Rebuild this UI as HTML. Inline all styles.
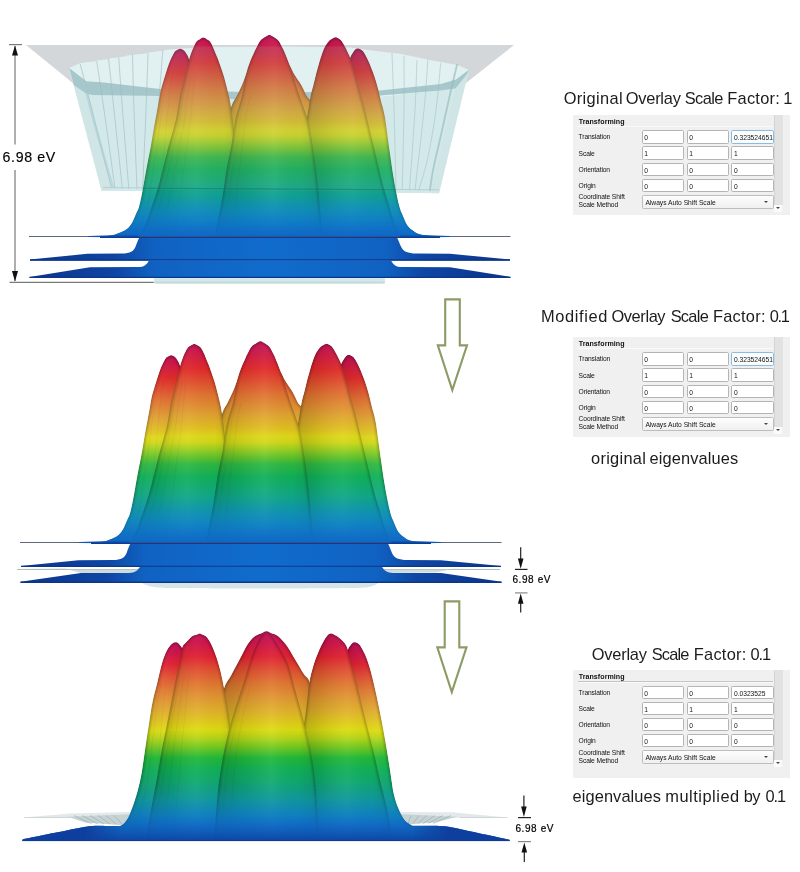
<!DOCTYPE html>
<html><head><meta charset="utf-8"><title>Overlay Scale Factor</title>
<style>
html,body{margin:0;padding:0;background:#fff}
body{width:800px;height:872px;position:relative;overflow:hidden;font-family:"Liberation Sans",sans-serif}
svg text{font-family:"Liberation Sans",sans-serif}
svg,.wrap{will-change:transform}
.wrap{position:absolute;left:0;top:0;width:800px;height:872px}
.pn{position:absolute;width:216.2px;background:#f0f0f0;font-size:6.7px;color:#111}
.pn .sb{position:absolute;left:200.2px;top:0;width:8.3px;background:#e2e2e2;border-left:.6px solid #d4d4d4}
.pn .sa{position:absolute;left:200.4px;width:8.1px;height:7.6px;background:#fbfbfb}
.pn .sa i{position:absolute;left:1.9px;top:2.6px;border-left:2.2px solid transparent;border-right:2.2px solid transparent;border-top:2.4px solid #444}
.pn .hd{position:absolute;left:5.3px;top:4.3px;font-weight:bold;font-size:7.1px;line-height:7px;letter-spacing:.05px}
.pn .hl{position:absolute;left:4.6px;top:11px;width:195px;height:.8px;background:#c4c4c4;border-bottom:.7px solid #fafafa}
.pn .lb{position:absolute;left:5.2px;line-height:7.4px;white-space:nowrap;letter-spacing:-.12px}
.pn .bx{position:absolute;width:40.6px;height:11.4px;border:.8px solid #b4b4b4;border-radius:1.6px;background:#fff;line-height:13.2px;text-indent:1.7px;white-space:nowrap;overflow:hidden}
.pn .fc{border-color:#86bde0;background:#fbfdff}
.pn .cb{position:absolute;left:68.2px;width:130.2px;height:11.8px;border:.8px solid #bdbdbd;border-radius:1.6px;background:linear-gradient(#fdfdfd,#f0f0f0);line-height:13.2px;text-indent:2.8px;white-space:nowrap}
.pn .cb i{position:absolute;right:4.6px;top:4.9px;border-left:2.2px solid transparent;border-right:2.2px solid transparent;border-top:2.4px solid #444}
</style></head><body>
<svg width="800" height="872" viewBox="0 0 800 872" style="position:absolute;left:0;top:0">
<defs>
<linearGradient id="m1_rb" gradientUnits="userSpaceOnUse" x1="0" y1="35.5" x2="0" y2="277"><stop offset="0.0000" stop-color="#bd0f55"/><stop offset="0.0393" stop-color="#cc1448"/><stop offset="0.1118" stop-color="#e02828"/><stop offset="0.2153" stop-color="#e07030"/><stop offset="0.2981" stop-color="#e0a030"/><stop offset="0.3582" stop-color="#e0c020"/><stop offset="0.3913" stop-color="#e0d818"/><stop offset="0.4161" stop-color="#d0d818"/><stop offset="0.4431" stop-color="#a0d020"/><stop offset="0.4741" stop-color="#68c428"/><stop offset="0.5052" stop-color="#30b840"/><stop offset="0.5569" stop-color="#10b058"/><stop offset="0.6398" stop-color="#10a888"/><stop offset="0.6894" stop-color="#1098a8"/><stop offset="0.7308" stop-color="#108cbc"/><stop offset="0.7640" stop-color="#1080c4"/><stop offset="0.7971" stop-color="#1072c8"/><stop offset="0.8302" stop-color="#1068c4"/><stop offset="1.0000" stop-color="#1058b8"/></linearGradient>
<linearGradient id="m3_rb" gradientUnits="userSpaceOnUse" x1="0" y1="631.65" x2="0" y2="840"><stop offset="0.0000" stop-color="#bd0f5a"/><stop offset="0.0521" stop-color="#cc1048"/><stop offset="0.1193" stop-color="#e02030"/><stop offset="0.1865" stop-color="#e05030"/><stop offset="0.2537" stop-color="#e07830"/><stop offset="0.3209" stop-color="#e09830"/><stop offset="0.3880" stop-color="#e0b428"/><stop offset="0.4384" stop-color="#e0cc18"/><stop offset="0.4720" stop-color="#dcdc10"/><stop offset="0.5140" stop-color="#b0d418"/><stop offset="0.5560" stop-color="#70c820"/><stop offset="0.6064" stop-color="#20b838"/><stop offset="0.6640" stop-color="#10b058"/><stop offset="0.7240" stop-color="#10a870"/><stop offset="0.8080" stop-color="#1098a0"/><stop offset="0.8800" stop-color="#1080c0"/><stop offset="0.9184" stop-color="#1070c4"/><stop offset="0.9520" stop-color="#1060bc"/><stop offset="0.9808" stop-color="#1052b0"/><stop offset="1.0000" stop-color="#0f48a4"/></linearGradient>
<linearGradient id="m1_rb2" gradientUnits="userSpaceOnUse" x1="0" y1="35.5" x2="0" y2="277"><stop offset="0.0000" stop-color="#bd0f55"/><stop offset="0.0518" stop-color="#bd0f55"/><stop offset="0.0864" stop-color="#cc1448"/><stop offset="0.1502" stop-color="#e02828"/><stop offset="0.2413" stop-color="#e07030"/><stop offset="0.3142" stop-color="#e0a030"/><stop offset="0.3671" stop-color="#e0c020"/><stop offset="0.3963" stop-color="#e0d818"/><stop offset="0.4181" stop-color="#d0d818"/><stop offset="0.4431" stop-color="#a0d020"/><stop offset="0.4741" stop-color="#68c428"/><stop offset="0.5052" stop-color="#30b840"/><stop offset="0.5569" stop-color="#10b058"/><stop offset="0.6398" stop-color="#10a888"/><stop offset="0.6894" stop-color="#1098a8"/><stop offset="0.7308" stop-color="#108cbc"/><stop offset="0.7640" stop-color="#1080c4"/><stop offset="0.7971" stop-color="#1072c8"/><stop offset="0.8302" stop-color="#1068c4"/><stop offset="1.0000" stop-color="#1058b8"/></linearGradient>
<linearGradient id="m3_rb2" gradientUnits="userSpaceOnUse" x1="0" y1="631.65" x2="0" y2="840"><stop offset="0.0000" stop-color="#bd0f5a"/><stop offset="0.0504" stop-color="#bd0f5a"/><stop offset="0.0974" stop-color="#cc1048"/><stop offset="0.1581" stop-color="#e02030"/><stop offset="0.2188" stop-color="#e05030"/><stop offset="0.2795" stop-color="#e07830"/><stop offset="0.3402" stop-color="#e09830"/><stop offset="0.4008" stop-color="#e0b428"/><stop offset="0.4464" stop-color="#e0cc18"/><stop offset="0.4767" stop-color="#dcdc10"/><stop offset="0.5146" stop-color="#b0d418"/><stop offset="0.5560" stop-color="#70c820"/><stop offset="0.6064" stop-color="#20b838"/><stop offset="0.6640" stop-color="#10b058"/><stop offset="0.7240" stop-color="#10a870"/><stop offset="0.8080" stop-color="#1098a0"/><stop offset="0.8800" stop-color="#1080c0"/><stop offset="0.9184" stop-color="#1070c4"/><stop offset="0.9520" stop-color="#1060bc"/><stop offset="0.9808" stop-color="#1052b0"/><stop offset="1.0000" stop-color="#0f48a4"/></linearGradient>
<filter id="bl" x="-20%" y="-20%" width="140%" height="140%"><feGaussianBlur stdDeviation="1.2"/></filter>
<linearGradient id="sh" x1="0" y1="0" x2="1" y2="0"><stop offset="0" stop-color="#000" stop-opacity=".22"/><stop offset=".28" stop-color="#000" stop-opacity=".08"/><stop offset=".55" stop-color="#fff" stop-opacity=".05"/><stop offset=".8" stop-color="#000" stop-opacity=".02"/><stop offset="1" stop-color="#000" stop-opacity=".14"/></linearGradient>
<linearGradient id="shc" x1="0" y1="0" x2="1" y2="0"><stop offset="0" stop-color="#000" stop-opacity=".2"/><stop offset=".3" stop-color="#000" stop-opacity=".06"/><stop offset=".55" stop-color="#fff" stop-opacity=".06"/><stop offset=".8" stop-color="#000" stop-opacity=".02"/><stop offset="1" stop-color="#000" stop-opacity=".12"/></linearGradient>
<linearGradient id="shh" gradientUnits="userSpaceOnUse" x1="29" y1="0" x2="511" y2="0"><stop offset="0" stop-color="#0b338a"/><stop offset=".18" stop-color="#0e46a4"/><stop offset=".26" stop-color="#1062c2"/><stop offset=".5" stop-color="#106ccc"/><stop offset=".74" stop-color="#1062c2"/><stop offset=".82" stop-color="#0e46a4"/><stop offset="1" stop-color="#0b338a"/></linearGradient>
<linearGradient id="slab3" gradientUnits="userSpaceOnUse" x1="0" y1="826" x2="0" y2="841"><stop offset="0" stop-color="#1256b8"/><stop offset=".5" stop-color="#1048aa"/><stop offset="1" stop-color="#0e3c98"/></linearGradient>
<linearGradient id="wash" gradientUnits="userSpaceOnUse" x1="0" y1="46" x2="0" y2="192"><stop offset="0" stop-color="#90aeb4" stop-opacity=".17"/><stop offset=".7" stop-color="#90aeb4" stop-opacity=".15"/><stop offset="1" stop-color="#90aeb4" stop-opacity=".1"/></linearGradient>
<linearGradient id="wingLg" gradientUnits="userSpaceOnUse" x1="124" y1="0" x2="84" y2="0"><stop offset="0" stop-color="#0f3f9e" stop-opacity="0"/><stop offset="1" stop-color="#0f3f9e" stop-opacity="1"/></linearGradient><linearGradient id="wingRg" gradientUnits="userSpaceOnUse" x1="408" y1="0" x2="448" y2="0"><stop offset="0" stop-color="#0f3f9e" stop-opacity="0"/><stop offset="1" stop-color="#0f3f9e" stop-opacity="1"/></linearGradient>
</defs>
<g id="fig1">
<path d="M26,45L514,45L466,83L74,84Z" fill="#d4d7d9"/>
<path d="M69,68L80,63.2L81,63L96,61.2L97,60.5L108,59.2L109,58.5L126,56.2L127,55.6L146,53.4L147,52.8L164,50.6L165,50L185,48.2L220,47L269,46.5L320,47L350,47.6L372,50.5L400,53.75L430,60L457.5,65L469,70L461,100L439,193.3L398,192.5L101.5,190.8L88,130Z" fill="#e1f0f0"/>
<path d="M88,93L160,95.5L269,100L380,97L461,88L439,193.3L101.5,190.8Z" fill="#d3e9e9"/>
<path d="M69,68L86,82L88,93L111,190L101.5,190.8Z" fill="#cfe5e6"/>
<path d="M469,70L461,80L455.4,88.6L430,192L439,193.3Z" fill="#cfe5e6"/>
<path d="M69.2,68L86.25,81.25L104,82.6L160,89L269,93L380,90.5L440.7,84L456,79.5L469.2,69.6L466.4,74.9L455.4,88.6L440.7,90.5L380,95.5L269,100.5L160,96L92,95L85.7,93.2L73.75,85L71,74Z" fill="#a6c8cc"/>
<path d="M80.2,63.9C82.15,71.51 86.85,89.52 92,110C97.15,130.48 108.2,175.13 111.4,188" stroke="#9abbc0" stroke-opacity="0.6" stroke-width="1" fill="none"/>
<path d="M96.7,61.1C97.9,69.17 100.98,88.98 104,110C107.02,131.02 113.19,175.55 115,188.5" stroke="#9abbc0" stroke-opacity="0.6" stroke-width="1" fill="none"/>
<path d="M108.6,58.3C109.49,66.83 111.72,88.5 114,110C116.28,131.5 121.01,175.63 122.4,188.6" stroke="#9abbc0" stroke-opacity="0.6" stroke-width="1" fill="none"/>
<path d="M118.7,57.4C119.33,66.08 120.83,88.32 122.5,110C124.17,131.68 127.76,175.8 128.8,188.8" stroke="#9abbc0" stroke-opacity="0.6" stroke-width="1" fill="none"/>
<path d="M132.5,54.3C132.75,63.49 133.26,87.77 134,110C134.74,132.23 136.5,175.97 137,189" stroke="#9abbc0" stroke-opacity="0.6" stroke-width="1" fill="none"/>
<path d="M148,52.8C147.67,62.24 146.89,87.44 146,110C145.11,132.56 143.16,176.38 142.6,189.5" stroke="#9abbc0" stroke-opacity="0.6" stroke-width="1" fill="none"/>
<path d="M162.8,50C162.01,59.9 160.11,86.98 158,110C155.89,133.02 151.32,176.38 150,189.5" stroke="#9abbc0" stroke-opacity="0.6" stroke-width="1" fill="none"/>
<path d="M83.9,82C85.73,89.09 90.2,107.51 95,125C99.8,142.49 110.03,177.6 113,188" stroke="#a9cbcf" stroke-opacity="0.55" stroke-width="2.6" fill="none"/>
<path d="M427.9,59.3C427.26,67.67 426.13,88.43 424,110C421.87,131.57 416.49,176.8 415,190" stroke="#9abbc0" stroke-opacity="0.5" stroke-width="1" fill="none"/>
<path d="M440.7,62.9C439.92,70.67 438.11,94.41 436,110C433.89,125.59 430.75,144.12 427.9,157.4C425.05,170.68 420.22,185.04 418.7,190.5" stroke="#9abbc0" stroke-opacity="0.5" stroke-width="1" fill="none"/>
<path d="M416.9,60C416.59,68.25 416.22,88.55 415,110C413.78,131.45 410.41,176.8 409.5,190" stroke="#9abbc0" stroke-opacity="0.5" stroke-width="1" fill="none"/>
<path d="M404,56C404,64.91 404.3,87.92 404,110C403.7,132.08 402.5,176.63 402.2,189.8" stroke="#9abbc0" stroke-opacity="0.5" stroke-width="1" fill="none"/>
<path d="M392,53C392.33,62.41 393.34,87.46 394,110C394.66,132.54 395.67,176.47 396,189.6" stroke="#9abbc0" stroke-opacity="0.5" stroke-width="1" fill="none"/>
<path d="M457.2,63.9C456,69.03 452.57,83.27 449.9,95C447.23,106.73 443.72,122.89 441,135C438.28,147.11 435.26,159.16 433.4,168.4C431.54,177.64 430.31,187.27 429.7,191" stroke="#98bcc0" stroke-opacity="0.7" stroke-width="1.8" fill="none"/>
<path d="M103,187.6 L439,189.8" stroke="#b2d0d4" stroke-width="1" fill="none"/>
<rect x="154" y="276" width="231" height="7.6" rx="3" fill="#d5e8e9"/>
<rect x="154" y="281.6" width="231" height="2" rx="1" fill="#c4dadc"/>
<g id="mtn12"><defs><clipPath id="m1_A"><path d="M99,236.6C100.98,236.42 107.7,236.09 111,235.5C114.3,234.91 116.36,234.07 119,233C121.64,231.93 124.86,230.65 127,229C129.15,227.35 130.51,225.47 132,223C133.49,220.53 134.84,216.64 136,214C137.16,211.36 138.01,210.38 139,207C139.99,203.62 141.11,197.96 142,193.5C142.89,189.04 143.71,183.88 144.4,180C145.09,176.12 145.11,175.78 146.2,170C147.29,164.22 149.65,152.43 151,145C152.35,137.57 153.23,131.6 154.4,125C155.57,118.4 157.09,110.65 158.12,105C159.15,99.35 159.8,94.59 160.64,90.75C161.47,86.91 162.31,84.72 163.19,81.75C164.06,78.78 164.85,76.09 165.94,72.75C167.02,69.41 168.4,64.84 169.77,61.5C171.14,58.16 173.01,54.38 174.22,52.5C175.43,50.62 176.11,50.71 177.11,50.1C178.11,49.49 179.21,48.8 180.25,48.8C181.29,48.8 182.49,49.49 183.39,50.1C184.29,50.71 184.85,51.26 185.68,52.5C186.52,53.74 187.44,54.71 188.45,57.6C189.46,60.49 190.51,63.83 191.78,70C193.05,76.17 194.62,86.75 196.14,95C197.66,103.25 199.37,111.75 201,120C202.63,128.25 204.35,136.75 206,145C207.65,153.25 209.51,160.93 211,170C212.49,179.07 213.84,188.91 215,200C216.16,211.09 217.5,231.06 218,237.2Z"/></clipPath><clipPath id="m1_E"><path d="M320,237.2C320.5,231.06 321.85,211.09 323,200C324.15,188.91 325.51,179.07 327,170C328.49,160.93 330.35,153.25 332,145C333.65,136.75 335.29,128.25 337,120C338.71,111.75 340.68,103.25 342.36,95C344.05,86.75 345.98,76.04 347.22,70C348.46,63.96 348.58,61.72 349.85,58.4C351.13,55.08 353.6,51.48 354.96,49.85C356.32,48.22 357.06,48.55 358.1,48.55C359.14,48.55 360.25,49.15 361.24,49.85C362.23,50.55 362.97,51.11 364.08,52.8C365.18,54.49 366.75,57.59 367.94,60.1C369.13,62.61 370.18,65.21 371.29,68C372.4,70.79 373.54,73.67 374.64,77C375.73,80.33 376.84,84.12 377.93,88.2C379.01,92.28 380.06,97.06 381.2,101.7C382.33,106.34 383.44,108.38 384.81,116.35C386.18,124.32 387.98,139.5 389.5,150C391.02,160.5 392.43,170.93 394,180C395.57,189.07 397.6,199.22 399,205C400.4,210.78 401.18,211.7 402.5,215C403.82,218.3 405.43,222.53 407,225C408.57,227.47 410.02,228.51 412,230C413.98,231.49 415.87,233.01 419,234C422.13,234.99 427.37,235.57 431,236C434.63,236.43 439.35,236.5 441,236.6Z"/></clipPath><clipPath id="m1_BCL"><path d="M222,237.2C222.16,224.46 222.34,178.51 223,160C223.66,141.49 224.56,133.99 226,125C227.44,116.01 229.98,110.2 231.7,105.5C233.42,100.8 234.72,99.85 236.4,96.5C238.08,93.15 240.15,89.24 241.9,85.2C243.65,81.16 245.33,75.83 247,72C248.67,68.17 250.19,63.98 252,62C253.81,60.02 255.69,55.38 258,60C260.31,64.62 263.69,73.5 266,90C268.31,106.5 270.51,135.71 272,160C273.49,184.29 274.5,224.46 275,237.2Z"/></clipPath><clipPath id="m1_BCR"><path d="M262,237.2C262.33,224.46 262.68,184.29 264,160C265.32,135.71 267.69,106.5 270,90C272.31,73.5 275.69,65.28 278,60C280.31,54.72 282.02,57.01 284,58C285.98,58.99 288.33,63.36 290,66C291.67,68.64 292.22,70.83 294.1,74C295.98,77.17 299.25,81.49 301.4,85.2C303.54,88.91 305.43,93.73 307.1,96.5C308.77,99.27 310.2,98.45 311.5,102C312.8,105.55 313.93,108.43 315,118C316.07,127.57 317.18,140.33 318,160C318.82,179.67 319.67,224.46 320,237.2Z"/></clipPath><clipPath id="m1_B"><path d="M138,237.2C139.16,235.19 143.02,229.32 145,225C146.98,220.68 148.35,215.62 150,211C151.65,206.38 153.35,202.12 155,197C156.65,191.88 157.94,187.75 160,180C162.06,172.25 164.9,159.9 167.5,150C170.1,140.1 173.75,128.66 175.75,120C177.75,111.34 178.55,103.07 179.64,97.5C180.73,91.93 181.47,89.96 182.38,86.25C183.28,82.54 183.93,79.64 185.11,75C186.29,70.36 188.48,61.81 189.52,58.1C190.55,54.39 190.7,54.35 191.38,52.5C192.07,50.65 192.77,48.75 193.65,46.9C194.53,45.05 195.65,42.62 196.72,41.3C197.79,39.98 199.07,39.51 200.16,38.9C201.25,38.29 202.26,37.6 203.3,37.6C204.34,37.6 205.35,38.29 206.44,38.9C207.53,39.51 208.81,39.98 209.88,41.3C210.95,42.62 212.07,45.05 212.95,46.9C213.83,48.75 214.45,50.65 215.22,52.5C215.98,54.35 216.22,54.39 217.58,58.1C218.95,61.81 222.01,70.36 223.49,75C224.96,79.64 225.57,82.54 226.52,86.25C227.48,89.96 228.54,94.16 229.26,97.5C229.98,100.84 230.13,101.14 230.91,106.5C231.69,111.86 232.83,121.17 234,130C235.17,138.83 236.68,148.45 238,160C239.32,171.55 240.84,187.26 242,200C243.16,212.74 244.5,231.06 245,237.2Z"/></clipPath><clipPath id="m1_D"><path d="M294,237.2C294.5,231.06 295.85,212.74 297,200C298.15,187.26 299.68,171.55 301,160C302.32,148.45 303.48,140.17 305,130C306.52,119.83 308.8,105.8 310.2,98.35C311.59,90.9 312.48,88.93 313.47,84.85C314.46,80.77 315.29,77.12 316.21,73.6C317.12,70.08 318.08,66.65 319,63.5C319.92,60.35 320.8,57.29 321.8,54.5C322.8,51.71 323.86,48.83 325.05,46.6C326.24,44.37 327.8,42.32 329.02,41C330.24,39.68 331.37,39.21 332.46,38.6C333.55,37.99 334.56,37.3 335.6,37.3C336.64,37.3 337.75,37.99 338.74,38.6C339.73,39.21 340.56,39.68 341.58,41C342.6,42.32 343.94,44.75 344.95,46.6C345.96,48.45 346.8,50.25 347.72,52.2C348.63,54.15 349.57,55.79 350.48,58.4C351.39,61.01 352.22,64.57 353.23,68C354.23,71.43 355.47,75.31 356.56,79.2C357.65,83.09 358.66,87.33 359.84,91.6C361.02,95.87 362.62,101.02 363.71,105.1C364.81,109.18 365.3,111.42 366.5,116.35C367.7,121.28 369.27,127.8 371,135C372.73,142.2 375.02,151.75 377,160C378.98,168.25 381.02,177.57 383,185C384.98,192.43 387.02,198.4 389,205C390.98,211.6 393.02,219.69 395,225C396.98,230.31 400.01,235.19 401,237.2Z"/></clipPath><clipPath id="m1_C"><path d="M214,237.2C214.5,235.19 215.56,232.03 217,225C218.44,217.97 221.18,203.74 222.75,194.6C224.32,185.46 225.06,177.85 226.5,169.6C227.94,161.35 230,153.11 231.5,144.6C233,136.09 233.91,125.94 235.6,118C237.29,110.06 240,103.76 241.75,96.5C243.5,89.24 244.92,79.56 246.22,74C247.53,68.44 248.29,66.51 249.66,62.8C251.02,59.09 253.24,54.29 254.49,51.5C255.75,48.71 256.25,47.76 257.26,45.9C258.27,44.04 259.14,41.8 260.63,40.2C262.11,38.6 264.81,37.07 266.26,36.2C267.71,35.33 268.36,34.9 269.4,34.9C270.44,34.9 271.09,35.33 272.54,36.2C273.99,37.07 276.69,38.6 278.17,40.2C279.66,41.8 280.53,44.04 281.54,45.9C282.55,47.76 283.12,48.71 284.31,51.5C285.5,54.29 287.38,59.09 288.74,62.8C290.11,66.51 290.88,68.75 292.58,74C294.28,79.25 297.09,88.66 299.06,94.6C301.03,100.54 302.86,105.05 304.5,110C306.14,114.95 307.43,117.24 309,124.6C310.57,131.96 312.56,144.7 314,154.6C315.44,164.5 316.6,173.81 317.75,184.6C318.9,195.39 320.13,211.32 321,220C321.87,228.68 322.67,234.36 323,237.2Z"/></clipPath><clipPath id="m1_all"><path d="M99,236.6C100.98,236.42 107.7,236.09 111,235.5C114.3,234.91 116.36,234.07 119,233C121.64,231.93 124.86,230.65 127,229C129.15,227.35 130.51,225.47 132,223C133.49,220.53 134.84,216.64 136,214C137.16,211.36 138.01,210.38 139,207C139.99,203.62 141.11,197.96 142,193.5C142.89,189.04 143.71,183.88 144.4,180C145.09,176.12 145.11,175.78 146.2,170C147.29,164.22 149.65,152.43 151,145C152.35,137.57 153.23,131.6 154.4,125C155.57,118.4 157.09,110.65 158.12,105C159.15,99.35 159.8,94.59 160.64,90.75C161.47,86.91 162.31,84.72 163.19,81.75C164.06,78.78 164.85,76.09 165.94,72.75C167.02,69.41 168.4,64.84 169.77,61.5C171.14,58.16 173.01,54.38 174.22,52.5C175.43,50.62 176.11,50.71 177.11,50.1C178.11,49.49 179.21,48.8 180.25,48.8C181.29,48.8 182.49,49.49 183.39,50.1C184.29,50.71 184.85,51.26 185.68,52.5C186.52,53.74 187.44,54.71 188.45,57.6C189.46,60.49 190.51,63.83 191.78,70C193.05,76.17 194.62,86.75 196.14,95C197.66,103.25 199.37,111.75 201,120C202.63,128.25 204.35,136.75 206,145C207.65,153.25 209.51,160.93 211,170C212.49,179.07 213.84,188.91 215,200C216.16,211.09 217.5,231.06 218,237.2Z"/><path d="M320,237.2C320.5,231.06 321.85,211.09 323,200C324.15,188.91 325.51,179.07 327,170C328.49,160.93 330.35,153.25 332,145C333.65,136.75 335.29,128.25 337,120C338.71,111.75 340.68,103.25 342.36,95C344.05,86.75 345.98,76.04 347.22,70C348.46,63.96 348.58,61.72 349.85,58.4C351.13,55.08 353.6,51.48 354.96,49.85C356.32,48.22 357.06,48.55 358.1,48.55C359.14,48.55 360.25,49.15 361.24,49.85C362.23,50.55 362.97,51.11 364.08,52.8C365.18,54.49 366.75,57.59 367.94,60.1C369.13,62.61 370.18,65.21 371.29,68C372.4,70.79 373.54,73.67 374.64,77C375.73,80.33 376.84,84.12 377.93,88.2C379.01,92.28 380.06,97.06 381.2,101.7C382.33,106.34 383.44,108.38 384.81,116.35C386.18,124.32 387.98,139.5 389.5,150C391.02,160.5 392.43,170.93 394,180C395.57,189.07 397.6,199.22 399,205C400.4,210.78 401.18,211.7 402.5,215C403.82,218.3 405.43,222.53 407,225C408.57,227.47 410.02,228.51 412,230C413.98,231.49 415.87,233.01 419,234C422.13,234.99 427.37,235.57 431,236C434.63,236.43 439.35,236.5 441,236.6Z"/><path d="M222,237.2C222.16,224.46 222.34,178.51 223,160C223.66,141.49 224.56,133.99 226,125C227.44,116.01 229.98,110.2 231.7,105.5C233.42,100.8 234.72,99.85 236.4,96.5C238.08,93.15 240.15,89.24 241.9,85.2C243.65,81.16 245.33,75.83 247,72C248.67,68.17 250.19,63.98 252,62C253.81,60.02 255.69,55.38 258,60C260.31,64.62 263.69,73.5 266,90C268.31,106.5 270.51,135.71 272,160C273.49,184.29 274.5,224.46 275,237.2Z"/><path d="M262,237.2C262.33,224.46 262.68,184.29 264,160C265.32,135.71 267.69,106.5 270,90C272.31,73.5 275.69,65.28 278,60C280.31,54.72 282.02,57.01 284,58C285.98,58.99 288.33,63.36 290,66C291.67,68.64 292.22,70.83 294.1,74C295.98,77.17 299.25,81.49 301.4,85.2C303.54,88.91 305.43,93.73 307.1,96.5C308.77,99.27 310.2,98.45 311.5,102C312.8,105.55 313.93,108.43 315,118C316.07,127.57 317.18,140.33 318,160C318.82,179.67 319.67,224.46 320,237.2Z"/><path d="M138,237.2C139.16,235.19 143.02,229.32 145,225C146.98,220.68 148.35,215.62 150,211C151.65,206.38 153.35,202.12 155,197C156.65,191.88 157.94,187.75 160,180C162.06,172.25 164.9,159.9 167.5,150C170.1,140.1 173.75,128.66 175.75,120C177.75,111.34 178.55,103.07 179.64,97.5C180.73,91.93 181.47,89.96 182.38,86.25C183.28,82.54 183.93,79.64 185.11,75C186.29,70.36 188.48,61.81 189.52,58.1C190.55,54.39 190.7,54.35 191.38,52.5C192.07,50.65 192.77,48.75 193.65,46.9C194.53,45.05 195.65,42.62 196.72,41.3C197.79,39.98 199.07,39.51 200.16,38.9C201.25,38.29 202.26,37.6 203.3,37.6C204.34,37.6 205.35,38.29 206.44,38.9C207.53,39.51 208.81,39.98 209.88,41.3C210.95,42.62 212.07,45.05 212.95,46.9C213.83,48.75 214.45,50.65 215.22,52.5C215.98,54.35 216.22,54.39 217.58,58.1C218.95,61.81 222.01,70.36 223.49,75C224.96,79.64 225.57,82.54 226.52,86.25C227.48,89.96 228.54,94.16 229.26,97.5C229.98,100.84 230.13,101.14 230.91,106.5C231.69,111.86 232.83,121.17 234,130C235.17,138.83 236.68,148.45 238,160C239.32,171.55 240.84,187.26 242,200C243.16,212.74 244.5,231.06 245,237.2Z"/><path d="M294,237.2C294.5,231.06 295.85,212.74 297,200C298.15,187.26 299.68,171.55 301,160C302.32,148.45 303.48,140.17 305,130C306.52,119.83 308.8,105.8 310.2,98.35C311.59,90.9 312.48,88.93 313.47,84.85C314.46,80.77 315.29,77.12 316.21,73.6C317.12,70.08 318.08,66.65 319,63.5C319.92,60.35 320.8,57.29 321.8,54.5C322.8,51.71 323.86,48.83 325.05,46.6C326.24,44.37 327.8,42.32 329.02,41C330.24,39.68 331.37,39.21 332.46,38.6C333.55,37.99 334.56,37.3 335.6,37.3C336.64,37.3 337.75,37.99 338.74,38.6C339.73,39.21 340.56,39.68 341.58,41C342.6,42.32 343.94,44.75 344.95,46.6C345.96,48.45 346.8,50.25 347.72,52.2C348.63,54.15 349.57,55.79 350.48,58.4C351.39,61.01 352.22,64.57 353.23,68C354.23,71.43 355.47,75.31 356.56,79.2C357.65,83.09 358.66,87.33 359.84,91.6C361.02,95.87 362.62,101.02 363.71,105.1C364.81,109.18 365.3,111.42 366.5,116.35C367.7,121.28 369.27,127.8 371,135C372.73,142.2 375.02,151.75 377,160C378.98,168.25 381.02,177.57 383,185C384.98,192.43 387.02,198.4 389,205C390.98,211.6 393.02,219.69 395,225C396.98,230.31 400.01,235.19 401,237.2Z"/><path d="M214,237.2C214.5,235.19 215.56,232.03 217,225C218.44,217.97 221.18,203.74 222.75,194.6C224.32,185.46 225.06,177.85 226.5,169.6C227.94,161.35 230,153.11 231.5,144.6C233,136.09 233.91,125.94 235.6,118C237.29,110.06 240,103.76 241.75,96.5C243.5,89.24 244.92,79.56 246.22,74C247.53,68.44 248.29,66.51 249.66,62.8C251.02,59.09 253.24,54.29 254.49,51.5C255.75,48.71 256.25,47.76 257.26,45.9C258.27,44.04 259.14,41.8 260.63,40.2C262.11,38.6 264.81,37.07 266.26,36.2C267.71,35.33 268.36,34.9 269.4,34.9C270.44,34.9 271.09,35.33 272.54,36.2C273.99,37.07 276.69,38.6 278.17,40.2C279.66,41.8 280.53,44.04 281.54,45.9C282.55,47.76 283.12,48.71 284.31,51.5C285.5,54.29 287.38,59.09 288.74,62.8C290.11,66.51 290.88,68.75 292.58,74C294.28,79.25 297.09,88.66 299.06,94.6C301.03,100.54 302.86,105.05 304.5,110C306.14,114.95 307.43,117.24 309,124.6C310.57,131.96 312.56,144.7 314,154.6C315.44,164.5 316.6,173.81 317.75,184.6C318.9,195.39 320.13,211.32 321,220C321.87,228.68 322.67,234.36 323,237.2Z"/></clipPath><linearGradient id="m1_fd" gradientUnits="userSpaceOnUse" x1="0" y1="185" x2="0" y2="238"><stop offset="0" stop-color="#fff" stop-opacity="0"/><stop offset="0.75" stop-color="#fff" stop-opacity=".8"/><stop offset="1" stop-color="#fff" stop-opacity="1"/></linearGradient><mask id="m1_mk" maskUnits="userSpaceOnUse" x="0" y="185" width="800" height="55"><rect x="0" y="185" width="800" height="55" fill="url(#m1_fd)"/></mask></defs>
<g clip-path="url(#m1_A)"><path d="M99,236.6C100.98,236.42 107.7,236.09 111,235.5C114.3,234.91 116.36,234.07 119,233C121.64,231.93 124.86,230.65 127,229C129.15,227.35 130.51,225.47 132,223C133.49,220.53 134.84,216.64 136,214C137.16,211.36 138.01,210.38 139,207C139.99,203.62 141.11,197.96 142,193.5C142.89,189.04 143.71,183.88 144.4,180C145.09,176.12 145.11,175.78 146.2,170C147.29,164.22 149.65,152.43 151,145C152.35,137.57 153.23,131.6 154.4,125C155.57,118.4 157.09,110.65 158.12,105C159.15,99.35 159.8,94.59 160.64,90.75C161.47,86.91 162.31,84.72 163.19,81.75C164.06,78.78 164.85,76.09 165.94,72.75C167.02,69.41 168.4,64.84 169.77,61.5C171.14,58.16 173.01,54.38 174.22,52.5C175.43,50.62 176.11,50.71 177.11,50.1C178.11,49.49 179.21,48.8 180.25,48.8C181.29,48.8 182.49,49.49 183.39,50.1C184.29,50.71 184.85,51.26 185.68,52.5C186.52,53.74 187.44,54.71 188.45,57.6C189.46,60.49 190.51,63.83 191.78,70C193.05,76.17 194.62,86.75 196.14,95C197.66,103.25 199.37,111.75 201,120C202.63,128.25 204.35,136.75 206,145C207.65,153.25 209.51,160.93 211,170C212.49,179.07 213.84,188.91 215,200C216.16,211.09 217.5,231.06 218,237.2Z" fill="url(#m1_rb2)"/><path d="M99,236.6C100.98,236.42 107.7,236.09 111,235.5C114.3,234.91 116.36,234.07 119,233C121.64,231.93 124.86,230.65 127,229C129.15,227.35 130.51,225.47 132,223C133.49,220.53 134.84,216.64 136,214C137.16,211.36 138.01,210.38 139,207C139.99,203.62 141.11,197.96 142,193.5C142.89,189.04 143.71,183.88 144.4,180C145.09,176.12 145.11,175.78 146.2,170C147.29,164.22 149.65,152.43 151,145C152.35,137.57 153.23,131.6 154.4,125C155.57,118.4 157.09,110.65 158.12,105C159.15,99.35 159.8,94.59 160.64,90.75C161.47,86.91 162.31,84.72 163.19,81.75C164.06,78.78 164.85,76.09 165.94,72.75C167.02,69.41 168.4,64.84 169.77,61.5C171.14,58.16 173.01,54.38 174.22,52.5C175.43,50.62 176.11,50.71 177.11,50.1C178.11,49.49 179.21,48.8 180.25,48.8C181.29,48.8 182.49,49.49 183.39,50.1C184.29,50.71 184.85,51.26 185.68,52.5C186.52,53.74 187.44,54.71 188.45,57.6C189.46,60.49 190.51,63.83 191.78,70C193.05,76.17 194.62,86.75 196.14,95C197.66,103.25 199.37,111.75 201,120C202.63,128.25 204.35,136.75 206,145C207.65,153.25 209.51,160.93 211,170C212.49,179.07 213.84,188.91 215,200C216.16,211.09 217.5,231.06 218,237.2Z" fill="url(#sh)"/><path d="M115.4,236.6C116.98,236.42 122.36,236.09 125,235.5C127.64,234.91 129.29,234.07 131.4,233C133.51,231.93 136.08,230.65 137.8,229C139.52,227.35 140.61,225.47 141.8,223C142.99,220.53 144.08,216.64 145,214C145.92,211.36 146.61,210.38 147.4,207C148.19,203.62 149.09,197.96 149.8,193.5C150.51,189.04 151.17,183.88 151.72,180C152.27,176.12 152.29,175.78 153.16,170C154.03,164.22 155.92,152.43 157,145C158.08,137.57 158.77,131.6 159.72,125C160.67,118.4 161.92,110.65 162.76,105C163.6,99.35 164.15,94.59 164.84,90.75C165.53,86.91 166.21,84.72 166.92,81.75C167.63,78.78 168.79,74.23 169.16,72.75" fill="none" stroke="#000" stroke-opacity=".05" stroke-width=".8"/><path d="M135.9,236.6C136.99,236.42 140.69,236.09 142.5,235.5C144.31,234.91 145.45,234.07 146.9,233C148.35,231.93 150.12,230.65 151.3,229C152.48,227.35 153.23,225.47 154.05,223C154.87,220.53 155.61,216.64 156.25,214C156.89,211.36 157.36,210.38 157.9,207C158.44,203.62 159.06,197.96 159.55,193.5C160.04,189.04 160.49,183.88 160.87,180C161.25,176.12 161.26,175.78 161.86,170C162.46,164.22 163.76,152.43 164.5,145C165.24,137.57 165.72,131.6 166.37,125C167.02,118.4 167.88,110.65 168.46,105C169.04,99.35 169.42,94.59 169.89,90.75C170.36,86.91 170.83,84.72 171.32,81.75C171.81,78.78 172.61,74.23 172.86,72.75" fill="none" stroke="#000" stroke-opacity=".05" stroke-width=".8"/><path d="M99,236.6C100.98,236.42 107.7,236.09 111,235.5C114.3,234.91 116.36,234.07 119,233C121.64,231.93 124.86,230.65 127,229C129.15,227.35 130.51,225.47 132,223C133.49,220.53 134.84,216.64 136,214C137.16,211.36 138.01,210.38 139,207C139.99,203.62 141.11,197.96 142,193.5C142.89,189.04 143.71,183.88 144.4,180C145.09,176.12 145.11,175.78 146.2,170C147.29,164.22 149.65,152.43 151,145C152.35,137.57 153.23,131.6 154.4,125C155.57,118.4 157.09,110.65 158.12,105C159.15,99.35 159.8,94.59 160.64,90.75C161.47,86.91 162.31,84.72 163.19,81.75C164.06,78.78 164.85,76.09 165.94,72.75C167.02,69.41 168.4,64.84 169.77,61.5C171.14,58.16 173.01,54.38 174.22,52.5C175.43,50.62 176.11,50.71 177.11,50.1C178.11,49.49 179.21,48.8 180.25,48.8C181.29,48.8 182.49,49.49 183.39,50.1C184.29,50.71 184.85,51.26 185.68,52.5C186.52,53.74 187.44,54.71 188.45,57.6C189.46,60.49 190.51,63.83 191.78,70C193.05,76.17 194.62,86.75 196.14,95C197.66,103.25 199.37,111.75 201,120C202.63,128.25 204.35,136.75 206,145C207.65,153.25 209.51,160.93 211,170C212.49,179.07 213.84,188.91 215,200C216.16,211.09 217.5,231.06 218,237.2Z" fill="none" stroke="#000" stroke-opacity=".24" stroke-width="3.4" filter="url(#bl)"/></g>
<g clip-path="url(#m1_E)"><path d="M320,237.2C320.5,231.06 321.85,211.09 323,200C324.15,188.91 325.51,179.07 327,170C328.49,160.93 330.35,153.25 332,145C333.65,136.75 335.29,128.25 337,120C338.71,111.75 340.68,103.25 342.36,95C344.05,86.75 345.98,76.04 347.22,70C348.46,63.96 348.58,61.72 349.85,58.4C351.13,55.08 353.6,51.48 354.96,49.85C356.32,48.22 357.06,48.55 358.1,48.55C359.14,48.55 360.25,49.15 361.24,49.85C362.23,50.55 362.97,51.11 364.08,52.8C365.18,54.49 366.75,57.59 367.94,60.1C369.13,62.61 370.18,65.21 371.29,68C372.4,70.79 373.54,73.67 374.64,77C375.73,80.33 376.84,84.12 377.93,88.2C379.01,92.28 380.06,97.06 381.2,101.7C382.33,106.34 383.44,108.38 384.81,116.35C386.18,124.32 387.98,139.5 389.5,150C391.02,160.5 392.43,170.93 394,180C395.57,189.07 397.6,199.22 399,205C400.4,210.78 401.18,211.7 402.5,215C403.82,218.3 405.43,222.53 407,225C408.57,227.47 410.02,228.51 412,230C413.98,231.49 415.87,233.01 419,234C422.13,234.99 427.37,235.57 431,236C434.63,236.43 439.35,236.5 441,236.6Z" fill="url(#m1_rb2)"/><path d="M320,237.2C320.5,231.06 321.85,211.09 323,200C324.15,188.91 325.51,179.07 327,170C328.49,160.93 330.35,153.25 332,145C333.65,136.75 335.29,128.25 337,120C338.71,111.75 340.68,103.25 342.36,95C344.05,86.75 345.98,76.04 347.22,70C348.46,63.96 348.58,61.72 349.85,58.4C351.13,55.08 353.6,51.48 354.96,49.85C356.32,48.22 357.06,48.55 358.1,48.55C359.14,48.55 360.25,49.15 361.24,49.85C362.23,50.55 362.97,51.11 364.08,52.8C365.18,54.49 366.75,57.59 367.94,60.1C369.13,62.61 370.18,65.21 371.29,68C372.4,70.79 373.54,73.67 374.64,77C375.73,80.33 376.84,84.12 377.93,88.2C379.01,92.28 380.06,97.06 381.2,101.7C382.33,106.34 383.44,108.38 384.81,116.35C386.18,124.32 387.98,139.5 389.5,150C391.02,160.5 392.43,170.93 394,180C395.57,189.07 397.6,199.22 399,205C400.4,210.78 401.18,211.7 402.5,215C403.82,218.3 405.43,222.53 407,225C408.57,227.47 410.02,228.51 412,230C413.98,231.49 415.87,233.01 419,234C422.13,234.99 427.37,235.57 431,236C434.63,236.43 439.35,236.5 441,236.6Z" fill="url(#sh)"/><path d="M320,237.2C320.5,231.06 321.85,211.09 323,200C324.15,188.91 325.51,179.07 327,170C328.49,160.93 330.35,153.25 332,145C333.65,136.75 335.29,128.25 337,120C338.71,111.75 340.68,103.25 342.36,95C344.05,86.75 345.98,76.04 347.22,70C348.46,63.96 348.58,61.72 349.85,58.4C351.13,55.08 353.6,51.48 354.96,49.85C356.32,48.22 357.06,48.55 358.1,48.55C359.14,48.55 360.25,49.15 361.24,49.85C362.23,50.55 362.97,51.11 364.08,52.8C365.18,54.49 366.75,57.59 367.94,60.1C369.13,62.61 370.18,65.21 371.29,68C372.4,70.79 373.54,73.67 374.64,77C375.73,80.33 376.84,84.12 377.93,88.2C379.01,92.28 380.06,97.06 381.2,101.7C382.33,106.34 383.44,108.38 384.81,116.35C386.18,124.32 387.98,139.5 389.5,150C391.02,160.5 392.43,170.93 394,180C395.57,189.07 397.6,199.22 399,205C400.4,210.78 401.18,211.7 402.5,215C403.82,218.3 405.43,222.53 407,225C408.57,227.47 410.02,228.51 412,230C413.98,231.49 415.87,233.01 419,234C422.13,234.99 427.37,235.57 431,236C434.63,236.43 439.35,236.5 441,236.6Z" fill="none" stroke="#000" stroke-opacity=".24" stroke-width="3.4" filter="url(#bl)"/></g>
<g clip-path="url(#m1_BCL)"><path d="M222,237.2C222.16,224.46 222.34,178.51 223,160C223.66,141.49 224.56,133.99 226,125C227.44,116.01 229.98,110.2 231.7,105.5C233.42,100.8 234.72,99.85 236.4,96.5C238.08,93.15 240.15,89.24 241.9,85.2C243.65,81.16 245.33,75.83 247,72C248.67,68.17 250.19,63.98 252,62C253.81,60.02 255.69,55.38 258,60C260.31,64.62 263.69,73.5 266,90C268.31,106.5 270.51,135.71 272,160C273.49,184.29 274.5,224.46 275,237.2Z" fill="url(#m1_rb)"/><path d="M222,237.2C222.16,224.46 222.34,178.51 223,160C223.66,141.49 224.56,133.99 226,125C227.44,116.01 229.98,110.2 231.7,105.5C233.42,100.8 234.72,99.85 236.4,96.5C238.08,93.15 240.15,89.24 241.9,85.2C243.65,81.16 245.33,75.83 247,72C248.67,68.17 250.19,63.98 252,62C253.81,60.02 255.69,55.38 258,60C260.31,64.62 263.69,73.5 266,90C268.31,106.5 270.51,135.71 272,160C273.49,184.29 274.5,224.46 275,237.2Z" fill="url(#sh)"/><path d="M222,237.2C222.16,224.46 222.34,178.51 223,160C223.66,141.49 224.56,133.99 226,125C227.44,116.01 229.98,110.2 231.7,105.5C233.42,100.8 234.72,99.85 236.4,96.5C238.08,93.15 240.15,89.24 241.9,85.2C243.65,81.16 245.33,75.83 247,72C248.67,68.17 250.19,63.98 252,62C253.81,60.02 255.69,55.38 258,60C260.31,64.62 263.69,73.5 266,90C268.31,106.5 270.51,135.71 272,160C273.49,184.29 274.5,224.46 275,237.2Z" fill="none" stroke="#000" stroke-opacity=".24" stroke-width="3.4" filter="url(#bl)"/></g>
<g clip-path="url(#m1_BCR)"><path d="M262,237.2C262.33,224.46 262.68,184.29 264,160C265.32,135.71 267.69,106.5 270,90C272.31,73.5 275.69,65.28 278,60C280.31,54.72 282.02,57.01 284,58C285.98,58.99 288.33,63.36 290,66C291.67,68.64 292.22,70.83 294.1,74C295.98,77.17 299.25,81.49 301.4,85.2C303.54,88.91 305.43,93.73 307.1,96.5C308.77,99.27 310.2,98.45 311.5,102C312.8,105.55 313.93,108.43 315,118C316.07,127.57 317.18,140.33 318,160C318.82,179.67 319.67,224.46 320,237.2Z" fill="url(#m1_rb)"/><path d="M262,237.2C262.33,224.46 262.68,184.29 264,160C265.32,135.71 267.69,106.5 270,90C272.31,73.5 275.69,65.28 278,60C280.31,54.72 282.02,57.01 284,58C285.98,58.99 288.33,63.36 290,66C291.67,68.64 292.22,70.83 294.1,74C295.98,77.17 299.25,81.49 301.4,85.2C303.54,88.91 305.43,93.73 307.1,96.5C308.77,99.27 310.2,98.45 311.5,102C312.8,105.55 313.93,108.43 315,118C316.07,127.57 317.18,140.33 318,160C318.82,179.67 319.67,224.46 320,237.2Z" fill="url(#sh)"/><path d="M262,237.2C262.33,224.46 262.68,184.29 264,160C265.32,135.71 267.69,106.5 270,90C272.31,73.5 275.69,65.28 278,60C280.31,54.72 282.02,57.01 284,58C285.98,58.99 288.33,63.36 290,66C291.67,68.64 292.22,70.83 294.1,74C295.98,77.17 299.25,81.49 301.4,85.2C303.54,88.91 305.43,93.73 307.1,96.5C308.77,99.27 310.2,98.45 311.5,102C312.8,105.55 313.93,108.43 315,118C316.07,127.57 317.18,140.33 318,160C318.82,179.67 319.67,224.46 320,237.2Z" fill="none" stroke="#000" stroke-opacity=".24" stroke-width="3.4" filter="url(#bl)"/></g>
<g clip-path="url(#m1_B)"><path d="M138,237.2C139.16,235.19 143.02,229.32 145,225C146.98,220.68 148.35,215.62 150,211C151.65,206.38 153.35,202.12 155,197C156.65,191.88 157.94,187.75 160,180C162.06,172.25 164.9,159.9 167.5,150C170.1,140.1 173.75,128.66 175.75,120C177.75,111.34 178.55,103.07 179.64,97.5C180.73,91.93 181.47,89.96 182.38,86.25C183.28,82.54 183.93,79.64 185.11,75C186.29,70.36 188.48,61.81 189.52,58.1C190.55,54.39 190.7,54.35 191.38,52.5C192.07,50.65 192.77,48.75 193.65,46.9C194.53,45.05 195.65,42.62 196.72,41.3C197.79,39.98 199.07,39.51 200.16,38.9C201.25,38.29 202.26,37.6 203.3,37.6C204.34,37.6 205.35,38.29 206.44,38.9C207.53,39.51 208.81,39.98 209.88,41.3C210.95,42.62 212.07,45.05 212.95,46.9C213.83,48.75 214.45,50.65 215.22,52.5C215.98,54.35 216.22,54.39 217.58,58.1C218.95,61.81 222.01,70.36 223.49,75C224.96,79.64 225.57,82.54 226.52,86.25C227.48,89.96 228.54,94.16 229.26,97.5C229.98,100.84 230.13,101.14 230.91,106.5C231.69,111.86 232.83,121.17 234,130C235.17,138.83 236.68,148.45 238,160C239.32,171.55 240.84,187.26 242,200C243.16,212.74 244.5,231.06 245,237.2Z" fill="url(#m1_rb)"/><path d="M138,237.2C139.16,235.19 143.02,229.32 145,225C146.98,220.68 148.35,215.62 150,211C151.65,206.38 153.35,202.12 155,197C156.65,191.88 157.94,187.75 160,180C162.06,172.25 164.9,159.9 167.5,150C170.1,140.1 173.75,128.66 175.75,120C177.75,111.34 178.55,103.07 179.64,97.5C180.73,91.93 181.47,89.96 182.38,86.25C183.28,82.54 183.93,79.64 185.11,75C186.29,70.36 188.48,61.81 189.52,58.1C190.55,54.39 190.7,54.35 191.38,52.5C192.07,50.65 192.77,48.75 193.65,46.9C194.53,45.05 195.65,42.62 196.72,41.3C197.79,39.98 199.07,39.51 200.16,38.9C201.25,38.29 202.26,37.6 203.3,37.6C204.34,37.6 205.35,38.29 206.44,38.9C207.53,39.51 208.81,39.98 209.88,41.3C210.95,42.62 212.07,45.05 212.95,46.9C213.83,48.75 214.45,50.65 215.22,52.5C215.98,54.35 216.22,54.39 217.58,58.1C218.95,61.81 222.01,70.36 223.49,75C224.96,79.64 225.57,82.54 226.52,86.25C227.48,89.96 228.54,94.16 229.26,97.5C229.98,100.84 230.13,101.14 230.91,106.5C231.69,111.86 232.83,121.17 234,130C235.17,138.83 236.68,148.45 238,160C239.32,171.55 240.84,187.26 242,200C243.16,212.74 244.5,231.06 245,237.2Z" fill="url(#sh)"/><path d="M147.38,237.2C148.37,235.19 151.7,229.32 153.4,225C155.1,220.68 156.28,215.62 157.7,211C159.12,206.38 160.58,202.12 162,197C163.42,191.88 164.53,187.75 166.3,180C168.07,172.25 170.52,159.9 172.75,150C174.98,140.1 178.11,128.66 179.85,120C181.58,111.34 182.28,103.07 183.24,97.5C184.2,91.93 184.86,89.96 185.65,86.25C186.44,82.54 187.66,76.86 188.06,75" fill="none" stroke="#000" stroke-opacity=".05" stroke-width=".8"/><path d="M158.1,237.2C158.91,235.19 161.61,229.32 163,225C164.39,220.68 165.34,215.62 166.5,211C167.66,206.38 168.84,202.12 170,197C171.16,191.88 172.06,187.75 173.5,180C174.94,172.25 176.93,159.9 178.75,150C180.57,140.1 183.12,128.66 184.52,120C185.93,111.34 186.51,103.07 187.29,97.5C188.07,91.93 188.6,89.96 189.25,86.25C189.9,82.54 190.89,76.86 191.21,75" fill="none" stroke="#000" stroke-opacity=".05" stroke-width=".8"/><path d="M171.5,237.2C172.08,235.19 174.01,229.32 175,225C175.99,220.68 176.68,215.62 177.5,211C178.32,206.38 179.18,202.12 180,197C180.82,191.88 181.47,187.75 182.5,180C183.53,172.25 184.95,159.9 186.25,150C187.55,140.1 189.37,128.66 190.38,120C191.38,111.34 191.79,103.07 192.35,97.5C192.91,91.93 193.29,89.96 193.75,86.25C194.21,82.54 194.92,76.86 195.15,75" fill="none" stroke="#000" stroke-opacity=".05" stroke-width=".8"/><path d="M138,237.2C139.16,235.19 143.02,229.32 145,225C146.98,220.68 148.35,215.62 150,211C151.65,206.38 153.35,202.12 155,197C156.65,191.88 157.94,187.75 160,180C162.06,172.25 164.9,159.9 167.5,150C170.1,140.1 173.75,128.66 175.75,120C177.75,111.34 178.55,103.07 179.64,97.5C180.73,91.93 181.47,89.96 182.38,86.25C183.28,82.54 183.93,79.64 185.11,75C186.29,70.36 188.48,61.81 189.52,58.1C190.55,54.39 190.7,54.35 191.38,52.5C192.07,50.65 192.77,48.75 193.65,46.9C194.53,45.05 195.65,42.62 196.72,41.3C197.79,39.98 199.07,39.51 200.16,38.9C201.25,38.29 202.26,37.6 203.3,37.6C204.34,37.6 205.35,38.29 206.44,38.9C207.53,39.51 208.81,39.98 209.88,41.3C210.95,42.62 212.07,45.05 212.95,46.9C213.83,48.75 214.45,50.65 215.22,52.5C215.98,54.35 216.22,54.39 217.58,58.1C218.95,61.81 222.01,70.36 223.49,75C224.96,79.64 225.57,82.54 226.52,86.25C227.48,89.96 228.54,94.16 229.26,97.5C229.98,100.84 230.13,101.14 230.91,106.5C231.69,111.86 232.83,121.17 234,130C235.17,138.83 236.68,148.45 238,160C239.32,171.55 240.84,187.26 242,200C243.16,212.74 244.5,231.06 245,237.2Z" fill="none" stroke="#000" stroke-opacity=".24" stroke-width="3.4" filter="url(#bl)"/></g>
<g clip-path="url(#m1_D)"><path d="M294,237.2C294.5,231.06 295.85,212.74 297,200C298.15,187.26 299.68,171.55 301,160C302.32,148.45 303.48,140.17 305,130C306.52,119.83 308.8,105.8 310.2,98.35C311.59,90.9 312.48,88.93 313.47,84.85C314.46,80.77 315.29,77.12 316.21,73.6C317.12,70.08 318.08,66.65 319,63.5C319.92,60.35 320.8,57.29 321.8,54.5C322.8,51.71 323.86,48.83 325.05,46.6C326.24,44.37 327.8,42.32 329.02,41C330.24,39.68 331.37,39.21 332.46,38.6C333.55,37.99 334.56,37.3 335.6,37.3C336.64,37.3 337.75,37.99 338.74,38.6C339.73,39.21 340.56,39.68 341.58,41C342.6,42.32 343.94,44.75 344.95,46.6C345.96,48.45 346.8,50.25 347.72,52.2C348.63,54.15 349.57,55.79 350.48,58.4C351.39,61.01 352.22,64.57 353.23,68C354.23,71.43 355.47,75.31 356.56,79.2C357.65,83.09 358.66,87.33 359.84,91.6C361.02,95.87 362.62,101.02 363.71,105.1C364.81,109.18 365.3,111.42 366.5,116.35C367.7,121.28 369.27,127.8 371,135C372.73,142.2 375.02,151.75 377,160C378.98,168.25 381.02,177.57 383,185C384.98,192.43 387.02,198.4 389,205C390.98,211.6 393.02,219.69 395,225C396.98,230.31 400.01,235.19 401,237.2Z" fill="url(#m1_rb)"/><path d="M294,237.2C294.5,231.06 295.85,212.74 297,200C298.15,187.26 299.68,171.55 301,160C302.32,148.45 303.48,140.17 305,130C306.52,119.83 308.8,105.8 310.2,98.35C311.59,90.9 312.48,88.93 313.47,84.85C314.46,80.77 315.29,77.12 316.21,73.6C317.12,70.08 318.08,66.65 319,63.5C319.92,60.35 320.8,57.29 321.8,54.5C322.8,51.71 323.86,48.83 325.05,46.6C326.24,44.37 327.8,42.32 329.02,41C330.24,39.68 331.37,39.21 332.46,38.6C333.55,37.99 334.56,37.3 335.6,37.3C336.64,37.3 337.75,37.99 338.74,38.6C339.73,39.21 340.56,39.68 341.58,41C342.6,42.32 343.94,44.75 344.95,46.6C345.96,48.45 346.8,50.25 347.72,52.2C348.63,54.15 349.57,55.79 350.48,58.4C351.39,61.01 352.22,64.57 353.23,68C354.23,71.43 355.47,75.31 356.56,79.2C357.65,83.09 358.66,87.33 359.84,91.6C361.02,95.87 362.62,101.02 363.71,105.1C364.81,109.18 365.3,111.42 366.5,116.35C367.7,121.28 369.27,127.8 371,135C372.73,142.2 375.02,151.75 377,160C378.98,168.25 381.02,177.57 383,185C384.98,192.43 387.02,198.4 389,205C390.98,211.6 393.02,219.69 395,225C396.98,230.31 400.01,235.19 401,237.2Z" fill="url(#sh)"/><path d="M294,237.2C294.5,231.06 295.85,212.74 297,200C298.15,187.26 299.68,171.55 301,160C302.32,148.45 303.48,140.17 305,130C306.52,119.83 308.8,105.8 310.2,98.35C311.59,90.9 312.48,88.93 313.47,84.85C314.46,80.77 315.29,77.12 316.21,73.6C317.12,70.08 318.08,66.65 319,63.5C319.92,60.35 320.8,57.29 321.8,54.5C322.8,51.71 323.86,48.83 325.05,46.6C326.24,44.37 327.8,42.32 329.02,41C330.24,39.68 331.37,39.21 332.46,38.6C333.55,37.99 334.56,37.3 335.6,37.3C336.64,37.3 337.75,37.99 338.74,38.6C339.73,39.21 340.56,39.68 341.58,41C342.6,42.32 343.94,44.75 344.95,46.6C345.96,48.45 346.8,50.25 347.72,52.2C348.63,54.15 349.57,55.79 350.48,58.4C351.39,61.01 352.22,64.57 353.23,68C354.23,71.43 355.47,75.31 356.56,79.2C357.65,83.09 358.66,87.33 359.84,91.6C361.02,95.87 362.62,101.02 363.71,105.1C364.81,109.18 365.3,111.42 366.5,116.35C367.7,121.28 369.27,127.8 371,135C372.73,142.2 375.02,151.75 377,160C378.98,168.25 381.02,177.57 383,185C384.98,192.43 387.02,198.4 389,205C390.98,211.6 393.02,219.69 395,225C396.98,230.31 400.01,235.19 401,237.2Z" fill="none" stroke="#000" stroke-opacity=".24" stroke-width="3.4" filter="url(#bl)"/></g>
<g clip-path="url(#m1_C)"><path d="M214,237.2C214.5,235.19 215.56,232.03 217,225C218.44,217.97 221.18,203.74 222.75,194.6C224.32,185.46 225.06,177.85 226.5,169.6C227.94,161.35 230,153.11 231.5,144.6C233,136.09 233.91,125.94 235.6,118C237.29,110.06 240,103.76 241.75,96.5C243.5,89.24 244.92,79.56 246.22,74C247.53,68.44 248.29,66.51 249.66,62.8C251.02,59.09 253.24,54.29 254.49,51.5C255.75,48.71 256.25,47.76 257.26,45.9C258.27,44.04 259.14,41.8 260.63,40.2C262.11,38.6 264.81,37.07 266.26,36.2C267.71,35.33 268.36,34.9 269.4,34.9C270.44,34.9 271.09,35.33 272.54,36.2C273.99,37.07 276.69,38.6 278.17,40.2C279.66,41.8 280.53,44.04 281.54,45.9C282.55,47.76 283.12,48.71 284.31,51.5C285.5,54.29 287.38,59.09 288.74,62.8C290.11,66.51 290.88,68.75 292.58,74C294.28,79.25 297.09,88.66 299.06,94.6C301.03,100.54 302.86,105.05 304.5,110C306.14,114.95 307.43,117.24 309,124.6C310.57,131.96 312.56,144.7 314,154.6C315.44,164.5 316.6,173.81 317.75,184.6C318.9,195.39 320.13,211.32 321,220C321.87,228.68 322.67,234.36 323,237.2Z" fill="url(#m1_rb)"/><path d="M214,237.2C214.5,235.19 215.56,232.03 217,225C218.44,217.97 221.18,203.74 222.75,194.6C224.32,185.46 225.06,177.85 226.5,169.6C227.94,161.35 230,153.11 231.5,144.6C233,136.09 233.91,125.94 235.6,118C237.29,110.06 240,103.76 241.75,96.5C243.5,89.24 244.92,79.56 246.22,74C247.53,68.44 248.29,66.51 249.66,62.8C251.02,59.09 253.24,54.29 254.49,51.5C255.75,48.71 256.25,47.76 257.26,45.9C258.27,44.04 259.14,41.8 260.63,40.2C262.11,38.6 264.81,37.07 266.26,36.2C267.71,35.33 268.36,34.9 269.4,34.9C270.44,34.9 271.09,35.33 272.54,36.2C273.99,37.07 276.69,38.6 278.17,40.2C279.66,41.8 280.53,44.04 281.54,45.9C282.55,47.76 283.12,48.71 284.31,51.5C285.5,54.29 287.38,59.09 288.74,62.8C290.11,66.51 290.88,68.75 292.58,74C294.28,79.25 297.09,88.66 299.06,94.6C301.03,100.54 302.86,105.05 304.5,110C306.14,114.95 307.43,117.24 309,124.6C310.57,131.96 312.56,144.7 314,154.6C315.44,164.5 316.6,173.81 317.75,184.6C318.9,195.39 320.13,211.32 321,220C321.87,228.68 322.67,234.36 323,237.2Z" fill="url(#shc)"/><path d="M221.7,237.2C222.13,235.19 223.04,232.03 224.28,225C225.52,217.97 227.88,203.74 229.22,194.6C230.57,185.46 231.21,177.85 232.45,169.6C233.69,161.35 235.46,153.11 236.75,144.6C238.04,136.09 238.81,125.94 240.28,118C241.74,110.06 244.73,100.05 245.61,96.5" fill="none" stroke="#000" stroke-opacity=".05" stroke-width=".8"/><path d="M230.5,237.2C230.85,235.19 231.59,232.03 232.6,225C233.61,217.97 235.53,203.74 236.62,194.6C237.72,185.46 238.24,177.85 239.25,169.6C240.26,161.35 241.7,153.11 242.75,144.6C243.8,136.09 244.43,125.94 245.62,118C246.81,110.06 249.24,100.05 249.96,96.5" fill="none" stroke="#000" stroke-opacity=".05" stroke-width=".8"/><path d="M214,237.2C214.5,235.19 215.56,232.03 217,225C218.44,217.97 221.18,203.74 222.75,194.6C224.32,185.46 225.06,177.85 226.5,169.6C227.94,161.35 230,153.11 231.5,144.6C233,136.09 233.91,125.94 235.6,118C237.29,110.06 240,103.76 241.75,96.5C243.5,89.24 244.92,79.56 246.22,74C247.53,68.44 248.29,66.51 249.66,62.8C251.02,59.09 253.24,54.29 254.49,51.5C255.75,48.71 256.25,47.76 257.26,45.9C258.27,44.04 259.14,41.8 260.63,40.2C262.11,38.6 264.81,37.07 266.26,36.2C267.71,35.33 268.36,34.9 269.4,34.9C270.44,34.9 271.09,35.33 272.54,36.2C273.99,37.07 276.69,38.6 278.17,40.2C279.66,41.8 280.53,44.04 281.54,45.9C282.55,47.76 283.12,48.71 284.31,51.5C285.5,54.29 287.38,59.09 288.74,62.8C290.11,66.51 290.88,68.75 292.58,74C294.28,79.25 297.09,88.66 299.06,94.6C301.03,100.54 302.86,105.05 304.5,110C306.14,114.95 307.43,117.24 309,124.6C310.57,131.96 312.56,144.7 314,154.6C315.44,164.5 316.6,173.81 317.75,184.6C318.9,195.39 320.13,211.32 321,220C321.87,228.68 322.67,234.36 323,237.2Z" fill="none" stroke="#000" stroke-opacity=".24" stroke-width="3.4" filter="url(#bl)"/></g>
<g clip-path="url(#m1_all)"><rect x="60" y="185" width="420" height="55" fill="url(#m1_rb)" mask="url(#m1_mk)"/></g></g>
<g clip-path="url(#m1_all)"><path d="M72,46.6L466,46.6L440,191.5L104,189.5Z" fill="url(#wash)"/>
<path d="M104,188 L440,190" stroke="#0b6a70" stroke-opacity=".45" stroke-width="1.2" fill="none"/></g>
<path d="M29,236.5 L510.5,236.5" stroke="#5f677c" stroke-width="1" fill="none"/>
<path d="M88,236L112,235.2L138,235.2L138,237.5L88,237.1Z" fill="#0f55b4"/>
<path d="M450,236L428,235.2L400,235.2L400,237.5L450,237.1Z" fill="#0f55b4"/>
<path d="M30,259.5 L87.5,253.8 L122,253.6C130,253.6 134,251.6 136,245.6 S138.5,239.2 139.5,237.4L397,237.4C398,239.2 399,241.6 401,246.6 S408,253.6 416,253.6L450,253.8 L510,259.5 L510,260.4 L30,260.4 Z" fill="url(#shh)"/>
<path d="M30,260 L510,260" stroke="#0c3688" stroke-width="1.4" fill="none"/>
<path d="M29.5,276.9 L90,267.2 L138,267C144,267 146.5,265 149,260.4L391,260.4C393.5,265 396,267 402,267L450,267.2 L510.5,276.9 L510.5,277.8 L29.5,277.8 Z" fill="url(#shh)"/>
<path d="M29.5,277.4 L510.5,277.4" stroke="#0c3688" stroke-width="1.4" fill="none"/>
<path d="M100,237.2 L440,237.2" stroke="#0c3c94" stroke-width="1.6" fill="none"/>
<g stroke="#7a7a7a" stroke-width="1.2" fill="none"><path d="M9,44.6H22"/><path d="M15,46V144.4M15,170V281"/><path d="M9.5,282.4H153.8"/></g>
<path d="M15,45.6 L12,55.5 L18,55.5Z M15,281.6 L12,271 L18,271Z" fill="#111"/>
<text x="2.6" y="162" font-size="14.2" letter-spacing=".62" fill="#000" stroke="#000" stroke-width=".15">6.98 eV</text>
</g>
<g id="fig2" transform="translate(-9,306.4)">
<path d="M26,262.6L74,262L90,266.5L146,267L146,262L392,262L392,266.5L445,266L462,262.3L509,262.9L509,263.6L26,263.6Z" fill="#cddcde"/>
<path d="M26,263.1H509" stroke="#aab4b8" stroke-width=".8"/>
<path d="M150,276C151.65,276.66 155.05,279.09 160,280C164.95,280.91 162.01,281.17 180,281.5C197.99,281.83 239.3,282 269,282C298.7,282 341.69,281.83 360,281.5C378.31,281.17 375.38,280.91 380,280C384.62,279.09 386.68,276.66 388,276" fill="#d5e4e6"/>
<use href="#mtn12"/>
<path d="M29,236.1 L510.5,236.1" stroke="#5f677c" stroke-width="1" fill="none"/>
<path d="M88,235.6L112,234.8L138,234.8L138,237.1L88,236.7Z" fill="#0f55b4"/>
<path d="M450,235.6L428,234.8L400,234.8L400,237.1L450,236.7Z" fill="#0f55b4"/>
<path d="M30,259.5 L87.5,253.8 L122,253.6C130,253.6 134,251.6 136,245.6 S138.5,238.8 139.5,237L397,237C398,238.8 399,241.6 401,246.6 S408,253.6 416,253.6L450,253.8 L510,259.5 L510,260.4 L30,260.4 Z" fill="url(#shh)"/>
<path d="M30,260 L510,260" stroke="#0c3688" stroke-width="1.4" fill="none"/>
<path d="M29.5,275.4 L90,266.7 L138,266.5C144,266.5 146.5,264.5 149,260.4L391,260.4C393.5,264.5 396,266.5 402,266.5L450,266.7 L510.5,275.4 L510.5,276.3 L29.5,276.3 Z" fill="url(#shh)"/>
<path d="M29.5,275.9 L510.5,275.9" stroke="#0c3688" stroke-width="1.4" fill="none"/>
<path d="M100,236.8 L440,236.8" stroke="#0c3c94" stroke-width="1.6" fill="none"/>
</g>
<g stroke="#222" stroke-width="1.2" fill="none"><path d="M520.7,547.3V560M520.7,603V612.5"/><path d="M515,569.4H527.5"/><path d="M515,592.9H527.5" stroke="#888"/></g>
<path d="M520.7,568.8 L517.9,558.5 L523.5,558.5Z M520.7,593.6 L517.9,603.8 L523.5,603.8Z" fill="#111"/>
<text x="512.4" y="582.6" font-size="10" letter-spacing=".6" fill="#000" stroke="#000" stroke-width=".2">6.98 eV</text>
<path transform="translate(0,0)" d="M445.2,299.4 H459.8 V345.4 H467 L452.3,390 L437.8,345.4 H445.2 Z" fill="#fff" stroke="#8c9b66" stroke-width="2.1" stroke-linejoin="miter"/>
<path transform="translate(-0.5,302)" d="M445.2,299.4 H459.8 V345.4 H467 L452.3,390 L437.8,345.4 H445.2 Z" fill="#fff" stroke="#8c9b66" stroke-width="2.1" stroke-linejoin="miter"/>
<g id="fig3">
<path d="M23.75,817.4L70,813.6L130,812L400,812L452.5,812.2L507.5,817.4L460,817.8L70,817.8Z" fill="#e3e9ea"/>
<path d="M23.75,817.5H70" stroke="#c3cccf" stroke-width=".7"/><path d="M460,817.5H507.5" stroke="#c3cccf" stroke-width=".7"/>
<path d="M67.5,816.8L85,822.5L122.5,825.2L135,825.2L135,814Z" fill="#c6d3d5"/>
<path d="M457.5,816.8L435,822.5L410,824.2L396,824.5L396,814Z" fill="#c6d3d5"/>
<path d="M74,815.5 L92,824" stroke="#7f8f93" stroke-opacity=".55" stroke-width=".7"/>
<path d="M451,815.5 L433,823.5" stroke="#7f8f93" stroke-opacity=".55" stroke-width=".7"/>
<path d="M82,815.5 L98,824" stroke="#7f8f93" stroke-opacity=".55" stroke-width=".7"/>
<path d="M443,815.5 L428,823.5" stroke="#7f8f93" stroke-opacity=".55" stroke-width=".7"/>
<path d="M90,815.5 L104,824" stroke="#7f8f93" stroke-opacity=".55" stroke-width=".7"/>
<path d="M435,815.5 L423,823.5" stroke="#7f8f93" stroke-opacity=".55" stroke-width=".7"/>
<path d="M98,815.5 L110,824" stroke="#7f8f93" stroke-opacity=".55" stroke-width=".7"/>
<path d="M427,815.5 L418,823.5" stroke="#7f8f93" stroke-opacity=".55" stroke-width=".7"/>
<path d="M106,815.5 L116,824" stroke="#7f8f93" stroke-opacity=".55" stroke-width=".7"/>
<path d="M419,815.5 L413,823.5" stroke="#7f8f93" stroke-opacity=".55" stroke-width=".7"/>
<path d="M114,815.5 L122,824" stroke="#7f8f93" stroke-opacity=".55" stroke-width=".7"/>
<path d="M411,815.5 L408,823.5" stroke="#7f8f93" stroke-opacity=".55" stroke-width=".7"/>
<defs><clipPath id="m3_A"><path d="M113,841C113,838.74 112.17,829.69 113,827.3C113.83,824.91 116.27,827.04 118,826.5C119.73,825.96 121.6,825.9 123.5,824C125.4,822.1 127.36,819.78 129.5,815C131.65,810.22 134.56,801.6 136.5,795C138.44,788.4 139.85,782.42 141.25,775C142.65,767.58 143.76,758.25 145,750C146.24,741.75 147.52,732.84 148.75,725C149.98,717.16 151.03,709.51 152.44,702.5C153.86,695.49 155.72,689.1 157.33,682.5C158.94,675.9 160.59,667.86 162.21,662.5C163.83,657.14 165.47,653.13 167.14,650C168.82,646.87 170.98,644.79 172.36,643.5C173.74,642.21 174.46,642.2 175.5,642.2C176.54,642.2 177.18,641.88 178.64,643.5C180.1,645.12 182.59,647.96 184.35,652C186.1,656.04 187.48,660.08 189.25,668C191.02,675.92 193.3,688.12 195.07,700C196.84,711.88 198.36,725.15 200,740C201.64,754.85 203.68,773.34 205,790C206.32,806.66 207.5,832.59 208,841Z"/></clipPath><clipPath id="m3_E"><path d="M322,841C322.66,832.59 324.51,806.66 326,790C327.49,773.34 329.36,754.85 331,740C332.64,725.15 334.16,711.88 335.93,700C337.7,688.12 339.98,675.92 341.75,668C343.52,660.08 344.99,656.04 346.65,652C348.32,647.96 350.48,645.12 351.86,643.5C353.24,641.88 353.96,642.2 355,642.2C356.04,642.2 357.21,642.84 358.14,643.5C359.07,644.16 359.48,644.37 360.63,646.2C361.77,648.03 363.8,651.73 365.08,654.6C366.36,657.47 367.28,660.25 368.38,663.6C369.47,666.95 370.39,669.72 371.71,674.9C373.04,680.08 374.79,687.56 376.4,695C378.01,702.44 379.92,711.75 381.5,720C383.08,728.25 384.6,736.75 386,745C387.4,753.25 388.68,761.75 390,770C391.32,778.25 392.51,788.4 394,795C395.49,801.6 397.27,805.88 399,810C400.73,814.12 402.52,817.52 404.5,820C406.48,822.48 409.1,823.93 411,825C412.9,826.07 414.51,826.12 416,826.5C417.49,826.88 419.34,824.91 420,827.3C420.66,829.69 420,838.74 420,841Z"/></clipPath><clipPath id="m3_CB"><path d="M213,841C213.33,827.63 214.01,781.28 215,760C215.99,738.72 217.48,723.88 219,712C220.52,700.12 222.22,693.98 224.19,688C226.15,682.02 228.41,680.37 230.91,675.75C233.4,671.13 236.53,665.2 239.3,660C242.07,654.8 245.18,648.14 247.69,644.25C250.2,640.36 252.04,638.31 254.51,636.4C256.98,634.49 260.66,633.48 262.64,632.65C264.62,631.82 265.23,631.35 266.5,631.35C267.77,631.35 268.38,631.82 270.36,632.65C272.34,633.48 275.74,634.2 278.49,636.4C281.24,638.6 284.22,642.11 287.02,646C289.82,649.89 292.67,655.38 295.45,660C298.23,664.62 301.51,670.25 303.88,674C306.25,677.75 308.16,676.48 309.83,682.75C311.5,689.02 312.82,699.25 314,712C315.18,724.75 316.18,738.72 317,760C317.82,781.28 318.67,827.63 319,841Z"/></clipPath><clipPath id="m3_B"><path d="M146,841C146.66,836.71 148.72,822.59 150,815C151.28,807.41 152.51,801.6 153.75,795C154.99,788.4 156.26,782.01 157.5,775C158.74,767.99 159.81,760.34 161.25,752.5C162.69,744.66 164.6,735.75 166.25,727.5C167.9,719.25 169.62,710.75 171.24,702.5C172.87,694.25 174.7,684.51 176.1,677.5C177.5,670.49 178.75,664.95 179.75,660C180.75,655.05 181.16,650.39 182.18,647.5C183.19,644.61 184.26,644.36 185.9,642.5C187.54,640.64 190.39,637.53 192.11,636.25C193.84,634.97 195.14,635.21 196.36,634.75C197.58,634.29 198.46,633.45 199.5,633.45C200.54,633.45 201.46,634.16 202.64,634.75C203.82,635.34 205.16,635.31 206.63,637C208.11,638.69 209.96,641.62 211.59,645C213.22,648.38 215.09,653.38 216.51,657.5C217.93,661.62 219.01,665.26 220.19,670C221.38,674.74 222.41,679.65 223.7,686.25C224.99,692.85 226.63,701.13 228,710C229.37,718.87 230.68,728.45 232,740C233.32,751.55 234.84,763.34 236,780C237.16,796.66 238.5,830.93 239,841Z"/></clipPath><clipPath id="m3_D"><path d="M294,841C294.66,832.59 296.68,806.66 298,790C299.32,773.34 300.68,753.2 302,740C303.32,726.8 304.8,719.45 306,710C307.2,700.55 308.04,690.13 309.28,682.75C310.52,675.37 311.98,670.45 313.53,665.25C315.08,660.05 316.99,655.29 318.7,651.25C320.41,647.21 322.34,643.47 323.89,640.75C325.44,638.03 326.9,635.95 328.11,634.75C329.32,633.55 330.21,633.45 331.25,633.45C332.29,633.45 332.88,633.88 334.39,634.75C335.9,635.62 338.36,636.85 340.37,638.75C342.38,640.65 344.95,642.74 346.58,646.25C348.21,649.76 348.63,654.02 350.25,660C351.87,665.98 354.35,674.66 356.37,682.5C358.39,690.34 360.46,699.25 362.5,707.5C364.54,715.75 366.69,724.25 368.75,732.5C370.81,740.75 373.14,749.66 375,757.5C376.86,765.34 378.35,772.99 380,780C381.65,787.01 383.56,793.81 385,800C386.44,806.19 387.6,810.74 388.75,817.5C389.9,824.26 391.46,837.12 392,841Z"/></clipPath><clipPath id="m3_C"><path d="M214,841C214.66,832.59 216.56,803.7 218,790C219.44,776.3 221.1,767.32 222.75,758C224.4,748.68 225.98,741.59 228,733.5C230.02,725.41 232.42,717.37 235,709C237.58,700.63 241.08,690.84 243.64,682.75C246.2,674.66 248.28,666.56 250.51,660C252.74,653.44 255.04,647.42 257.16,643C259.28,638.58 261.82,635.03 263.36,633.2C264.9,631.37 265.46,631.9 266.5,631.9C267.54,631.9 268.02,631.37 269.64,633.2C271.26,635.03 273.35,638 276.34,643C279.32,648 284.71,656.08 287.72,663.5C290.73,670.92 292.31,679.91 294.58,688C296.85,696.09 299.35,704.41 301.5,712.5C303.65,720.59 305.87,729.49 307.6,737C309.33,744.51 310.61,749.25 312,758C313.39,766.75 314.85,776.3 316,790C317.15,803.7 318.5,832.59 319,841Z"/></clipPath><clipPath id="m3_all"><path d="M113,841C113,838.74 112.17,829.69 113,827.3C113.83,824.91 116.27,827.04 118,826.5C119.73,825.96 121.6,825.9 123.5,824C125.4,822.1 127.36,819.78 129.5,815C131.65,810.22 134.56,801.6 136.5,795C138.44,788.4 139.85,782.42 141.25,775C142.65,767.58 143.76,758.25 145,750C146.24,741.75 147.52,732.84 148.75,725C149.98,717.16 151.03,709.51 152.44,702.5C153.86,695.49 155.72,689.1 157.33,682.5C158.94,675.9 160.59,667.86 162.21,662.5C163.83,657.14 165.47,653.13 167.14,650C168.82,646.87 170.98,644.79 172.36,643.5C173.74,642.21 174.46,642.2 175.5,642.2C176.54,642.2 177.18,641.88 178.64,643.5C180.1,645.12 182.59,647.96 184.35,652C186.1,656.04 187.48,660.08 189.25,668C191.02,675.92 193.3,688.12 195.07,700C196.84,711.88 198.36,725.15 200,740C201.64,754.85 203.68,773.34 205,790C206.32,806.66 207.5,832.59 208,841Z"/><path d="M322,841C322.66,832.59 324.51,806.66 326,790C327.49,773.34 329.36,754.85 331,740C332.64,725.15 334.16,711.88 335.93,700C337.7,688.12 339.98,675.92 341.75,668C343.52,660.08 344.99,656.04 346.65,652C348.32,647.96 350.48,645.12 351.86,643.5C353.24,641.88 353.96,642.2 355,642.2C356.04,642.2 357.21,642.84 358.14,643.5C359.07,644.16 359.48,644.37 360.63,646.2C361.77,648.03 363.8,651.73 365.08,654.6C366.36,657.47 367.28,660.25 368.38,663.6C369.47,666.95 370.39,669.72 371.71,674.9C373.04,680.08 374.79,687.56 376.4,695C378.01,702.44 379.92,711.75 381.5,720C383.08,728.25 384.6,736.75 386,745C387.4,753.25 388.68,761.75 390,770C391.32,778.25 392.51,788.4 394,795C395.49,801.6 397.27,805.88 399,810C400.73,814.12 402.52,817.52 404.5,820C406.48,822.48 409.1,823.93 411,825C412.9,826.07 414.51,826.12 416,826.5C417.49,826.88 419.34,824.91 420,827.3C420.66,829.69 420,838.74 420,841Z"/><path d="M213,841C213.33,827.63 214.01,781.28 215,760C215.99,738.72 217.48,723.88 219,712C220.52,700.12 222.22,693.98 224.19,688C226.15,682.02 228.41,680.37 230.91,675.75C233.4,671.13 236.53,665.2 239.3,660C242.07,654.8 245.18,648.14 247.69,644.25C250.2,640.36 252.04,638.31 254.51,636.4C256.98,634.49 260.66,633.48 262.64,632.65C264.62,631.82 265.23,631.35 266.5,631.35C267.77,631.35 268.38,631.82 270.36,632.65C272.34,633.48 275.74,634.2 278.49,636.4C281.24,638.6 284.22,642.11 287.02,646C289.82,649.89 292.67,655.38 295.45,660C298.23,664.62 301.51,670.25 303.88,674C306.25,677.75 308.16,676.48 309.83,682.75C311.5,689.02 312.82,699.25 314,712C315.18,724.75 316.18,738.72 317,760C317.82,781.28 318.67,827.63 319,841Z"/><path d="M146,841C146.66,836.71 148.72,822.59 150,815C151.28,807.41 152.51,801.6 153.75,795C154.99,788.4 156.26,782.01 157.5,775C158.74,767.99 159.81,760.34 161.25,752.5C162.69,744.66 164.6,735.75 166.25,727.5C167.9,719.25 169.62,710.75 171.24,702.5C172.87,694.25 174.7,684.51 176.1,677.5C177.5,670.49 178.75,664.95 179.75,660C180.75,655.05 181.16,650.39 182.18,647.5C183.19,644.61 184.26,644.36 185.9,642.5C187.54,640.64 190.39,637.53 192.11,636.25C193.84,634.97 195.14,635.21 196.36,634.75C197.58,634.29 198.46,633.45 199.5,633.45C200.54,633.45 201.46,634.16 202.64,634.75C203.82,635.34 205.16,635.31 206.63,637C208.11,638.69 209.96,641.62 211.59,645C213.22,648.38 215.09,653.38 216.51,657.5C217.93,661.62 219.01,665.26 220.19,670C221.38,674.74 222.41,679.65 223.7,686.25C224.99,692.85 226.63,701.13 228,710C229.37,718.87 230.68,728.45 232,740C233.32,751.55 234.84,763.34 236,780C237.16,796.66 238.5,830.93 239,841Z"/><path d="M294,841C294.66,832.59 296.68,806.66 298,790C299.32,773.34 300.68,753.2 302,740C303.32,726.8 304.8,719.45 306,710C307.2,700.55 308.04,690.13 309.28,682.75C310.52,675.37 311.98,670.45 313.53,665.25C315.08,660.05 316.99,655.29 318.7,651.25C320.41,647.21 322.34,643.47 323.89,640.75C325.44,638.03 326.9,635.95 328.11,634.75C329.32,633.55 330.21,633.45 331.25,633.45C332.29,633.45 332.88,633.88 334.39,634.75C335.9,635.62 338.36,636.85 340.37,638.75C342.38,640.65 344.95,642.74 346.58,646.25C348.21,649.76 348.63,654.02 350.25,660C351.87,665.98 354.35,674.66 356.37,682.5C358.39,690.34 360.46,699.25 362.5,707.5C364.54,715.75 366.69,724.25 368.75,732.5C370.81,740.75 373.14,749.66 375,757.5C376.86,765.34 378.35,772.99 380,780C381.65,787.01 383.56,793.81 385,800C386.44,806.19 387.6,810.74 388.75,817.5C389.9,824.26 391.46,837.12 392,841Z"/><path d="M214,841C214.66,832.59 216.56,803.7 218,790C219.44,776.3 221.1,767.32 222.75,758C224.4,748.68 225.98,741.59 228,733.5C230.02,725.41 232.42,717.37 235,709C237.58,700.63 241.08,690.84 243.64,682.75C246.2,674.66 248.28,666.56 250.51,660C252.74,653.44 255.04,647.42 257.16,643C259.28,638.58 261.82,635.03 263.36,633.2C264.9,631.37 265.46,631.9 266.5,631.9C267.54,631.9 268.02,631.37 269.64,633.2C271.26,635.03 273.35,638 276.34,643C279.32,648 284.71,656.08 287.72,663.5C290.73,670.92 292.31,679.91 294.58,688C296.85,696.09 299.35,704.41 301.5,712.5C303.65,720.59 305.87,729.49 307.6,737C309.33,744.51 310.61,749.25 312,758C313.39,766.75 314.85,776.3 316,790C317.15,803.7 318.5,832.59 319,841Z"/></clipPath><linearGradient id="m3_fd" gradientUnits="userSpaceOnUse" x1="0" y1="785" x2="0" y2="842"><stop offset="0" stop-color="#fff" stop-opacity="0"/><stop offset="0.72" stop-color="#fff" stop-opacity=".8"/><stop offset="1" stop-color="#fff" stop-opacity="1"/></linearGradient><mask id="m3_mk" maskUnits="userSpaceOnUse" x="0" y="785" width="800" height="59"><rect x="0" y="785" width="800" height="59" fill="url(#m3_fd)"/></mask></defs>
<g clip-path="url(#m3_A)"><path d="M113,841C113,838.74 112.17,829.69 113,827.3C113.83,824.91 116.27,827.04 118,826.5C119.73,825.96 121.6,825.9 123.5,824C125.4,822.1 127.36,819.78 129.5,815C131.65,810.22 134.56,801.6 136.5,795C138.44,788.4 139.85,782.42 141.25,775C142.65,767.58 143.76,758.25 145,750C146.24,741.75 147.52,732.84 148.75,725C149.98,717.16 151.03,709.51 152.44,702.5C153.86,695.49 155.72,689.1 157.33,682.5C158.94,675.9 160.59,667.86 162.21,662.5C163.83,657.14 165.47,653.13 167.14,650C168.82,646.87 170.98,644.79 172.36,643.5C173.74,642.21 174.46,642.2 175.5,642.2C176.54,642.2 177.18,641.88 178.64,643.5C180.1,645.12 182.59,647.96 184.35,652C186.1,656.04 187.48,660.08 189.25,668C191.02,675.92 193.3,688.12 195.07,700C196.84,711.88 198.36,725.15 200,740C201.64,754.85 203.68,773.34 205,790C206.32,806.66 207.5,832.59 208,841Z" fill="url(#m3_rb2)"/><path d="M113,841C113,838.74 112.17,829.69 113,827.3C113.83,824.91 116.27,827.04 118,826.5C119.73,825.96 121.6,825.9 123.5,824C125.4,822.1 127.36,819.78 129.5,815C131.65,810.22 134.56,801.6 136.5,795C138.44,788.4 139.85,782.42 141.25,775C142.65,767.58 143.76,758.25 145,750C146.24,741.75 147.52,732.84 148.75,725C149.98,717.16 151.03,709.51 152.44,702.5C153.86,695.49 155.72,689.1 157.33,682.5C158.94,675.9 160.59,667.86 162.21,662.5C163.83,657.14 165.47,653.13 167.14,650C168.82,646.87 170.98,644.79 172.36,643.5C173.74,642.21 174.46,642.2 175.5,642.2C176.54,642.2 177.18,641.88 178.64,643.5C180.1,645.12 182.59,647.96 184.35,652C186.1,656.04 187.48,660.08 189.25,668C191.02,675.92 193.3,688.12 195.07,700C196.84,711.88 198.36,725.15 200,740C201.64,754.85 203.68,773.34 205,790C206.32,806.66 207.5,832.59 208,841Z" fill="url(#sh)"/><path d="M125.8,841C125.8,838.74 125.14,829.69 125.8,827.3C126.46,824.91 128.41,827.04 129.8,826.5C131.19,825.96 132.68,825.9 134.2,824C135.72,822.1 137.28,819.78 139,815C140.72,810.22 143.05,801.6 144.6,795C146.15,788.4 147.28,782.42 148.4,775C149.52,767.58 150.41,758.25 151.4,750C152.39,741.75 153.41,732.84 154.4,725C155.39,717.16 156.25,709.51 157.4,702.5C158.56,695.49 160.74,685.8 161.4,682.5" fill="none" stroke="#000" stroke-opacity=".05" stroke-width=".8"/><path d="M141.8,841C141.8,838.74 141.35,829.69 141.8,827.3C142.25,824.91 143.6,827.04 144.55,826.5C145.5,825.96 146.53,825.9 147.58,824C148.62,822.1 149.7,819.78 150.88,815C152.05,810.22 153.66,801.6 154.73,795C155.79,788.4 156.57,782.42 157.34,775C158.11,767.58 158.72,758.25 159.4,750C160.08,741.75 160.78,732.84 161.46,725C162.14,717.16 162.73,709.51 163.53,702.5C164.32,695.49 165.82,685.8 166.28,682.5" fill="none" stroke="#000" stroke-opacity=".05" stroke-width=".8"/><path d="M113,841C113,838.74 112.17,829.69 113,827.3C113.83,824.91 116.27,827.04 118,826.5C119.73,825.96 121.6,825.9 123.5,824C125.4,822.1 127.36,819.78 129.5,815C131.65,810.22 134.56,801.6 136.5,795C138.44,788.4 139.85,782.42 141.25,775C142.65,767.58 143.76,758.25 145,750C146.24,741.75 147.52,732.84 148.75,725C149.98,717.16 151.03,709.51 152.44,702.5C153.86,695.49 155.72,689.1 157.33,682.5C158.94,675.9 160.59,667.86 162.21,662.5C163.83,657.14 165.47,653.13 167.14,650C168.82,646.87 170.98,644.79 172.36,643.5C173.74,642.21 174.46,642.2 175.5,642.2C176.54,642.2 177.18,641.88 178.64,643.5C180.1,645.12 182.59,647.96 184.35,652C186.1,656.04 187.48,660.08 189.25,668C191.02,675.92 193.3,688.12 195.07,700C196.84,711.88 198.36,725.15 200,740C201.64,754.85 203.68,773.34 205,790C206.32,806.66 207.5,832.59 208,841Z" fill="none" stroke="#000" stroke-opacity=".24" stroke-width="3.4" filter="url(#bl)"/></g>
<g clip-path="url(#m3_E)"><path d="M322,841C322.66,832.59 324.51,806.66 326,790C327.49,773.34 329.36,754.85 331,740C332.64,725.15 334.16,711.88 335.93,700C337.7,688.12 339.98,675.92 341.75,668C343.52,660.08 344.99,656.04 346.65,652C348.32,647.96 350.48,645.12 351.86,643.5C353.24,641.88 353.96,642.2 355,642.2C356.04,642.2 357.21,642.84 358.14,643.5C359.07,644.16 359.48,644.37 360.63,646.2C361.77,648.03 363.8,651.73 365.08,654.6C366.36,657.47 367.28,660.25 368.38,663.6C369.47,666.95 370.39,669.72 371.71,674.9C373.04,680.08 374.79,687.56 376.4,695C378.01,702.44 379.92,711.75 381.5,720C383.08,728.25 384.6,736.75 386,745C387.4,753.25 388.68,761.75 390,770C391.32,778.25 392.51,788.4 394,795C395.49,801.6 397.27,805.88 399,810C400.73,814.12 402.52,817.52 404.5,820C406.48,822.48 409.1,823.93 411,825C412.9,826.07 414.51,826.12 416,826.5C417.49,826.88 419.34,824.91 420,827.3C420.66,829.69 420,838.74 420,841Z" fill="url(#m3_rb2)"/><path d="M322,841C322.66,832.59 324.51,806.66 326,790C327.49,773.34 329.36,754.85 331,740C332.64,725.15 334.16,711.88 335.93,700C337.7,688.12 339.98,675.92 341.75,668C343.52,660.08 344.99,656.04 346.65,652C348.32,647.96 350.48,645.12 351.86,643.5C353.24,641.88 353.96,642.2 355,642.2C356.04,642.2 357.21,642.84 358.14,643.5C359.07,644.16 359.48,644.37 360.63,646.2C361.77,648.03 363.8,651.73 365.08,654.6C366.36,657.47 367.28,660.25 368.38,663.6C369.47,666.95 370.39,669.72 371.71,674.9C373.04,680.08 374.79,687.56 376.4,695C378.01,702.44 379.92,711.75 381.5,720C383.08,728.25 384.6,736.75 386,745C387.4,753.25 388.68,761.75 390,770C391.32,778.25 392.51,788.4 394,795C395.49,801.6 397.27,805.88 399,810C400.73,814.12 402.52,817.52 404.5,820C406.48,822.48 409.1,823.93 411,825C412.9,826.07 414.51,826.12 416,826.5C417.49,826.88 419.34,824.91 420,827.3C420.66,829.69 420,838.74 420,841Z" fill="url(#sh)"/><path d="M322,841C322.66,832.59 324.51,806.66 326,790C327.49,773.34 329.36,754.85 331,740C332.64,725.15 334.16,711.88 335.93,700C337.7,688.12 339.98,675.92 341.75,668C343.52,660.08 344.99,656.04 346.65,652C348.32,647.96 350.48,645.12 351.86,643.5C353.24,641.88 353.96,642.2 355,642.2C356.04,642.2 357.21,642.84 358.14,643.5C359.07,644.16 359.48,644.37 360.63,646.2C361.77,648.03 363.8,651.73 365.08,654.6C366.36,657.47 367.28,660.25 368.38,663.6C369.47,666.95 370.39,669.72 371.71,674.9C373.04,680.08 374.79,687.56 376.4,695C378.01,702.44 379.92,711.75 381.5,720C383.08,728.25 384.6,736.75 386,745C387.4,753.25 388.68,761.75 390,770C391.32,778.25 392.51,788.4 394,795C395.49,801.6 397.27,805.88 399,810C400.73,814.12 402.52,817.52 404.5,820C406.48,822.48 409.1,823.93 411,825C412.9,826.07 414.51,826.12 416,826.5C417.49,826.88 419.34,824.91 420,827.3C420.66,829.69 420,838.74 420,841Z" fill="none" stroke="#000" stroke-opacity=".24" stroke-width="3.4" filter="url(#bl)"/></g>
<g clip-path="url(#m3_CB)"><path d="M213,841C213.33,827.63 214.01,781.28 215,760C215.99,738.72 217.48,723.88 219,712C220.52,700.12 222.22,693.98 224.19,688C226.15,682.02 228.41,680.37 230.91,675.75C233.4,671.13 236.53,665.2 239.3,660C242.07,654.8 245.18,648.14 247.69,644.25C250.2,640.36 252.04,638.31 254.51,636.4C256.98,634.49 260.66,633.48 262.64,632.65C264.62,631.82 265.23,631.35 266.5,631.35C267.77,631.35 268.38,631.82 270.36,632.65C272.34,633.48 275.74,634.2 278.49,636.4C281.24,638.6 284.22,642.11 287.02,646C289.82,649.89 292.67,655.38 295.45,660C298.23,664.62 301.51,670.25 303.88,674C306.25,677.75 308.16,676.48 309.83,682.75C311.5,689.02 312.82,699.25 314,712C315.18,724.75 316.18,738.72 317,760C317.82,781.28 318.67,827.63 319,841Z" fill="url(#m3_rb)"/><path d="M213,841C213.33,827.63 214.01,781.28 215,760C215.99,738.72 217.48,723.88 219,712C220.52,700.12 222.22,693.98 224.19,688C226.15,682.02 228.41,680.37 230.91,675.75C233.4,671.13 236.53,665.2 239.3,660C242.07,654.8 245.18,648.14 247.69,644.25C250.2,640.36 252.04,638.31 254.51,636.4C256.98,634.49 260.66,633.48 262.64,632.65C264.62,631.82 265.23,631.35 266.5,631.35C267.77,631.35 268.38,631.82 270.36,632.65C272.34,633.48 275.74,634.2 278.49,636.4C281.24,638.6 284.22,642.11 287.02,646C289.82,649.89 292.67,655.38 295.45,660C298.23,664.62 301.51,670.25 303.88,674C306.25,677.75 308.16,676.48 309.83,682.75C311.5,689.02 312.82,699.25 314,712C315.18,724.75 316.18,738.72 317,760C317.82,781.28 318.67,827.63 319,841Z" fill="url(#sh)"/><path d="M213,841C213.33,827.63 214.01,781.28 215,760C215.99,738.72 217.48,723.88 219,712C220.52,700.12 222.22,693.98 224.19,688C226.15,682.02 228.41,680.37 230.91,675.75C233.4,671.13 236.53,665.2 239.3,660C242.07,654.8 245.18,648.14 247.69,644.25C250.2,640.36 252.04,638.31 254.51,636.4C256.98,634.49 260.66,633.48 262.64,632.65C264.62,631.82 265.23,631.35 266.5,631.35C267.77,631.35 268.38,631.82 270.36,632.65C272.34,633.48 275.74,634.2 278.49,636.4C281.24,638.6 284.22,642.11 287.02,646C289.82,649.89 292.67,655.38 295.45,660C298.23,664.62 301.51,670.25 303.88,674C306.25,677.75 308.16,676.48 309.83,682.75C311.5,689.02 312.82,699.25 314,712C315.18,724.75 316.18,738.72 317,760C317.82,781.28 318.67,827.63 319,841Z" fill="none" stroke="#000" stroke-opacity=".24" stroke-width="3.4" filter="url(#bl)"/></g>
<g clip-path="url(#m3_B)"><path d="M146,841C146.66,836.71 148.72,822.59 150,815C151.28,807.41 152.51,801.6 153.75,795C154.99,788.4 156.26,782.01 157.5,775C158.74,767.99 159.81,760.34 161.25,752.5C162.69,744.66 164.6,735.75 166.25,727.5C167.9,719.25 169.62,710.75 171.24,702.5C172.87,694.25 174.7,684.51 176.1,677.5C177.5,670.49 178.75,664.95 179.75,660C180.75,655.05 181.16,650.39 182.18,647.5C183.19,644.61 184.26,644.36 185.9,642.5C187.54,640.64 190.39,637.53 192.11,636.25C193.84,634.97 195.14,635.21 196.36,634.75C197.58,634.29 198.46,633.45 199.5,633.45C200.54,633.45 201.46,634.16 202.64,634.75C203.82,635.34 205.16,635.31 206.63,637C208.11,638.69 209.96,641.62 211.59,645C213.22,648.38 215.09,653.38 216.51,657.5C217.93,661.62 219.01,665.26 220.19,670C221.38,674.74 222.41,679.65 223.7,686.25C224.99,692.85 226.63,701.13 228,710C229.37,718.87 230.68,728.45 232,740C233.32,751.55 234.84,763.34 236,780C237.16,796.66 238.5,830.93 239,841Z" fill="url(#m3_rb)"/><path d="M146,841C146.66,836.71 148.72,822.59 150,815C151.28,807.41 152.51,801.6 153.75,795C154.99,788.4 156.26,782.01 157.5,775C158.74,767.99 159.81,760.34 161.25,752.5C162.69,744.66 164.6,735.75 166.25,727.5C167.9,719.25 169.62,710.75 171.24,702.5C172.87,694.25 174.7,684.51 176.1,677.5C177.5,670.49 178.75,664.95 179.75,660C180.75,655.05 181.16,650.39 182.18,647.5C183.19,644.61 184.26,644.36 185.9,642.5C187.54,640.64 190.39,637.53 192.11,636.25C193.84,634.97 195.14,635.21 196.36,634.75C197.58,634.29 198.46,633.45 199.5,633.45C200.54,633.45 201.46,634.16 202.64,634.75C203.82,635.34 205.16,635.31 206.63,637C208.11,638.69 209.96,641.62 211.59,645C213.22,648.38 215.09,653.38 216.51,657.5C217.93,661.62 219.01,665.26 220.19,670C221.38,674.74 222.41,679.65 223.7,686.25C224.99,692.85 226.63,701.13 228,710C229.37,718.87 230.68,728.45 232,740C233.32,751.55 234.84,763.34 236,780C237.16,796.66 238.5,830.93 239,841Z" fill="url(#sh)"/><path d="M153.7,841C154.27,836.71 156.04,822.59 157.14,815C158.24,807.41 159.3,801.6 160.37,795C161.43,788.4 162.53,782.01 163.59,775C164.65,767.99 165.57,760.34 166.82,752.5C168.06,744.66 169.7,735.75 171.12,727.5C172.53,719.25 174,710.75 175.42,702.5C176.83,694.25 179.01,681.62 179.72,677.5" fill="none" stroke="#000" stroke-opacity=".05" stroke-width=".8"/><path d="M162.5,841C162.96,836.71 164.4,822.59 165.3,815C166.2,807.41 167.06,801.6 167.93,795C168.79,788.4 169.68,782.01 170.55,775C171.42,767.99 172.16,760.34 173.17,752.5C174.19,744.66 175.52,735.75 176.67,727.5C177.83,719.25 179.02,710.75 180.17,702.5C181.33,694.25 183.1,681.62 183.67,677.5" fill="none" stroke="#000" stroke-opacity=".05" stroke-width=".8"/><path d="M173.5,841C173.83,836.71 174.86,822.59 175.5,815C176.14,807.41 176.76,801.6 177.38,795C177.99,788.4 178.63,782.01 179.25,775C179.87,767.99 180.4,760.34 181.12,752.5C181.85,744.66 182.8,735.75 183.62,727.5C184.45,719.25 185.3,710.75 186.12,702.5C186.95,694.25 188.21,681.62 188.62,677.5" fill="none" stroke="#000" stroke-opacity=".05" stroke-width=".8"/><path d="M146,841C146.66,836.71 148.72,822.59 150,815C151.28,807.41 152.51,801.6 153.75,795C154.99,788.4 156.26,782.01 157.5,775C158.74,767.99 159.81,760.34 161.25,752.5C162.69,744.66 164.6,735.75 166.25,727.5C167.9,719.25 169.62,710.75 171.24,702.5C172.87,694.25 174.7,684.51 176.1,677.5C177.5,670.49 178.75,664.95 179.75,660C180.75,655.05 181.16,650.39 182.18,647.5C183.19,644.61 184.26,644.36 185.9,642.5C187.54,640.64 190.39,637.53 192.11,636.25C193.84,634.97 195.14,635.21 196.36,634.75C197.58,634.29 198.46,633.45 199.5,633.45C200.54,633.45 201.46,634.16 202.64,634.75C203.82,635.34 205.16,635.31 206.63,637C208.11,638.69 209.96,641.62 211.59,645C213.22,648.38 215.09,653.38 216.51,657.5C217.93,661.62 219.01,665.26 220.19,670C221.38,674.74 222.41,679.65 223.7,686.25C224.99,692.85 226.63,701.13 228,710C229.37,718.87 230.68,728.45 232,740C233.32,751.55 234.84,763.34 236,780C237.16,796.66 238.5,830.93 239,841Z" fill="none" stroke="#000" stroke-opacity=".24" stroke-width="3.4" filter="url(#bl)"/></g>
<g clip-path="url(#m3_D)"><path d="M294,841C294.66,832.59 296.68,806.66 298,790C299.32,773.34 300.68,753.2 302,740C303.32,726.8 304.8,719.45 306,710C307.2,700.55 308.04,690.13 309.28,682.75C310.52,675.37 311.98,670.45 313.53,665.25C315.08,660.05 316.99,655.29 318.7,651.25C320.41,647.21 322.34,643.47 323.89,640.75C325.44,638.03 326.9,635.95 328.11,634.75C329.32,633.55 330.21,633.45 331.25,633.45C332.29,633.45 332.88,633.88 334.39,634.75C335.9,635.62 338.36,636.85 340.37,638.75C342.38,640.65 344.95,642.74 346.58,646.25C348.21,649.76 348.63,654.02 350.25,660C351.87,665.98 354.35,674.66 356.37,682.5C358.39,690.34 360.46,699.25 362.5,707.5C364.54,715.75 366.69,724.25 368.75,732.5C370.81,740.75 373.14,749.66 375,757.5C376.86,765.34 378.35,772.99 380,780C381.65,787.01 383.56,793.81 385,800C386.44,806.19 387.6,810.74 388.75,817.5C389.9,824.26 391.46,837.12 392,841Z" fill="url(#m3_rb)"/><path d="M294,841C294.66,832.59 296.68,806.66 298,790C299.32,773.34 300.68,753.2 302,740C303.32,726.8 304.8,719.45 306,710C307.2,700.55 308.04,690.13 309.28,682.75C310.52,675.37 311.98,670.45 313.53,665.25C315.08,660.05 316.99,655.29 318.7,651.25C320.41,647.21 322.34,643.47 323.89,640.75C325.44,638.03 326.9,635.95 328.11,634.75C329.32,633.55 330.21,633.45 331.25,633.45C332.29,633.45 332.88,633.88 334.39,634.75C335.9,635.62 338.36,636.85 340.37,638.75C342.38,640.65 344.95,642.74 346.58,646.25C348.21,649.76 348.63,654.02 350.25,660C351.87,665.98 354.35,674.66 356.37,682.5C358.39,690.34 360.46,699.25 362.5,707.5C364.54,715.75 366.69,724.25 368.75,732.5C370.81,740.75 373.14,749.66 375,757.5C376.86,765.34 378.35,772.99 380,780C381.65,787.01 383.56,793.81 385,800C386.44,806.19 387.6,810.74 388.75,817.5C389.9,824.26 391.46,837.12 392,841Z" fill="url(#sh)"/><path d="M294,841C294.66,832.59 296.68,806.66 298,790C299.32,773.34 300.68,753.2 302,740C303.32,726.8 304.8,719.45 306,710C307.2,700.55 308.04,690.13 309.28,682.75C310.52,675.37 311.98,670.45 313.53,665.25C315.08,660.05 316.99,655.29 318.7,651.25C320.41,647.21 322.34,643.47 323.89,640.75C325.44,638.03 326.9,635.95 328.11,634.75C329.32,633.55 330.21,633.45 331.25,633.45C332.29,633.45 332.88,633.88 334.39,634.75C335.9,635.62 338.36,636.85 340.37,638.75C342.38,640.65 344.95,642.74 346.58,646.25C348.21,649.76 348.63,654.02 350.25,660C351.87,665.98 354.35,674.66 356.37,682.5C358.39,690.34 360.46,699.25 362.5,707.5C364.54,715.75 366.69,724.25 368.75,732.5C370.81,740.75 373.14,749.66 375,757.5C376.86,765.34 378.35,772.99 380,780C381.65,787.01 383.56,793.81 385,800C386.44,806.19 387.6,810.74 388.75,817.5C389.9,824.26 391.46,837.12 392,841Z" fill="none" stroke="#000" stroke-opacity=".24" stroke-width="3.4" filter="url(#bl)"/></g>
<g clip-path="url(#m3_C)"><path d="M214,841C214.66,832.59 216.56,803.7 218,790C219.44,776.3 221.1,767.32 222.75,758C224.4,748.68 225.98,741.59 228,733.5C230.02,725.41 232.42,717.37 235,709C237.58,700.63 241.08,690.84 243.64,682.75C246.2,674.66 248.28,666.56 250.51,660C252.74,653.44 255.04,647.42 257.16,643C259.28,638.58 261.82,635.03 263.36,633.2C264.9,631.37 265.46,631.9 266.5,631.9C267.54,631.9 268.02,631.37 269.64,633.2C271.26,635.03 273.35,638 276.34,643C279.32,648 284.71,656.08 287.72,663.5C290.73,670.92 292.31,679.91 294.58,688C296.85,696.09 299.35,704.41 301.5,712.5C303.65,720.59 305.87,729.49 307.6,737C309.33,744.51 310.61,749.25 312,758C313.39,766.75 314.85,776.3 316,790C317.15,803.7 318.5,832.59 319,841Z" fill="url(#m3_rb)"/><path d="M214,841C214.66,832.59 216.56,803.7 218,790C219.44,776.3 221.1,767.32 222.75,758C224.4,748.68 225.98,741.59 228,733.5C230.02,725.41 232.42,717.37 235,709C237.58,700.63 241.08,690.84 243.64,682.75C246.2,674.66 248.28,666.56 250.51,660C252.74,653.44 255.04,647.42 257.16,643C259.28,638.58 261.82,635.03 263.36,633.2C264.9,631.37 265.46,631.9 266.5,631.9C267.54,631.9 268.02,631.37 269.64,633.2C271.26,635.03 273.35,638 276.34,643C279.32,648 284.71,656.08 287.72,663.5C290.73,670.92 292.31,679.91 294.58,688C296.85,696.09 299.35,704.41 301.5,712.5C303.65,720.59 305.87,729.49 307.6,737C309.33,744.51 310.61,749.25 312,758C313.39,766.75 314.85,776.3 316,790C317.15,803.7 318.5,832.59 319,841Z" fill="url(#shc)"/><path d="M221.35,841C221.92,832.59 223.55,803.7 224.79,790C226.03,776.3 227.46,767.32 228.88,758C230.29,748.68 231.65,741.59 233.39,733.5C235.13,725.41 237.18,717.37 239.41,709C241.64,700.63 245.69,687.08 246.94,682.75" fill="none" stroke="#000" stroke-opacity=".05" stroke-width=".8"/><path d="M229.75,841C230.21,832.59 231.54,803.7 232.55,790C233.56,776.3 234.72,767.32 235.88,758C237.03,748.68 238.14,741.59 239.55,733.5C240.96,725.41 242.63,717.37 244.45,709C246.27,700.63 249.56,687.08 250.57,682.75" fill="none" stroke="#000" stroke-opacity=".05" stroke-width=".8"/><path d="M214,841C214.66,832.59 216.56,803.7 218,790C219.44,776.3 221.1,767.32 222.75,758C224.4,748.68 225.98,741.59 228,733.5C230.02,725.41 232.42,717.37 235,709C237.58,700.63 241.08,690.84 243.64,682.75C246.2,674.66 248.28,666.56 250.51,660C252.74,653.44 255.04,647.42 257.16,643C259.28,638.58 261.82,635.03 263.36,633.2C264.9,631.37 265.46,631.9 266.5,631.9C267.54,631.9 268.02,631.37 269.64,633.2C271.26,635.03 273.35,638 276.34,643C279.32,648 284.71,656.08 287.72,663.5C290.73,670.92 292.31,679.91 294.58,688C296.85,696.09 299.35,704.41 301.5,712.5C303.65,720.59 305.87,729.49 307.6,737C309.33,744.51 310.61,749.25 312,758C313.39,766.75 314.85,776.3 316,790C317.15,803.7 318.5,832.59 319,841Z" fill="none" stroke="#000" stroke-opacity=".24" stroke-width="3.4" filter="url(#bl)"/></g>
<g clip-path="url(#m3_all)"><rect x="60" y="785" width="420" height="59" fill="url(#m3_rb)" mask="url(#m3_mk)"/></g>
<path d="M22.5,839.4C27.86,838.31 44.27,834.94 55,832.8C65.72,830.65 78.75,827.52 87.5,826.4C96.25,825.28 102.64,826.07 108,826C113.36,825.93 118.02,826 120,826L120,841 L22.5,841Z" fill="url(#m3_rb)"/><path d="M22.5,839.4C27.86,838.31 44.27,834.94 55,832.8C65.72,830.65 78.75,827.52 87.5,826.4C96.25,825.28 102.64,826.07 108,826C113.36,825.93 118.02,826 120,826L120,841 L22.5,841Z" fill="url(#wingLg)"/>
<path d="M509.5,839.8C504.3,838.68 488.64,835.23 478,833C467.36,830.77 453.91,827.49 445,826.3C436.09,825.11 429.28,825.88 424,825.8C418.72,825.72 414.81,825.8 413,825.8L413,841 L509.5,841Z" fill="url(#m3_rb)"/><path d="M509.5,839.8C504.3,838.68 488.64,835.23 478,833C467.36,830.77 453.91,827.49 445,826.3C436.09,825.11 429.28,825.88 424,825.8C418.72,825.72 414.81,825.8 413,825.8L413,841 L509.5,841Z" fill="url(#wingRg)"/>
<path d="M22.5,840.6H509.5" stroke="#0d3a94" stroke-width="1"/>
</g>
<g stroke="#222" stroke-width="1.2" fill="none"><path d="M523.9,795.6V808M524.3,851V861.9"/><path d="M518,817.6H531"/><path d="M518,841.6H531" stroke="#888"/></g>
<path d="M523.9,817 L521.1,806.6 L526.7,806.6Z M524.3,842.4 L521.5,852.6 L527.1,852.6Z" fill="#111"/>
<text x="515.4" y="831.6" font-size="10" letter-spacing=".6" fill="#000" stroke="#000" stroke-width=".2">6.98 eV</text>
<text x="563.66" y="104.2" font-size="16.4" letter-spacing="0.358" fill="#1c1c1c">Original</text>
<text x="625.76" y="104.2" font-size="16.4" letter-spacing="-0.227" fill="#1c1c1c">Overlay</text>
<text x="684.66" y="104.2" font-size="16.4" letter-spacing="-0.552" fill="#1c1c1c">Scale</text>
<text x="727.19" y="104.2" font-size="16.4" letter-spacing="0.284" fill="#1c1c1c">Factor:</text>
<text x="783.37" y="104.2" font-size="16.4" letter-spacing="-1.934" fill="#1c1c1c">1</text>
<text x="540.99" y="321.6" font-size="16.4" letter-spacing="0.643" fill="#1c1c1c">Modified</text>
<text x="611.46" y="321.6" font-size="16.4" letter-spacing="-0.393" fill="#1c1c1c">Overlay</text>
<text x="670.66" y="321.6" font-size="16.4" letter-spacing="-0.726" fill="#1c1c1c">Scale</text>
<text x="712.99" y="321.6" font-size="16.4" letter-spacing="0.250" fill="#1c1c1c">Factor:</text>
<text x="769.64" y="321.6" font-size="16.4" letter-spacing="-1.251" fill="#1c1c1c">0.1</text>
<text x="591.04" y="463.8" font-size="16.4" letter-spacing="0.288" fill="#1c1c1c">original</text>
<text x="649.44" y="463.8" font-size="16.4" letter-spacing="0.125" fill="#1c1c1c">eigenvalues</text>
<text x="591.76" y="660.1" font-size="16.4" letter-spacing="-0.210" fill="#1c1c1c">Overlay</text>
<text x="651.76" y="660.1" font-size="16.4" letter-spacing="-0.839" fill="#1c1c1c">Scale</text>
<text x="693.69" y="660.1" font-size="16.4" letter-spacing="0.284" fill="#1c1c1c">Factor:</text>
<text x="750.59" y="660.1" font-size="16.4" letter-spacing="-1.076" fill="#1c1c1c">0.1</text>
<text x="572.54" y="802" font-size="16.4" letter-spacing="0.095" fill="#1c1c1c">eigenvalues</text>
<text x="665.23" y="802" font-size="16.4" letter-spacing="0.529" fill="#1c1c1c">multiplied</text>
<text x="743.73" y="802" font-size="16.4" letter-spacing="-0.636" fill="#1c1c1c">by</text>
<text x="765.54" y="802" font-size="16.4" letter-spacing="-1.151" fill="#1c1c1c">0.1</text>
</svg>
<div class="wrap">
<div class="pn" style="left:573.4px;top:114.6px;height:100.5px">
<div class="sb" style="height:90px"></div><div class="sa" style="top:90px"><i></i></div>
<div class="hd">Transforming</div><div class="hl"></div>
<div class="lb" style="top:18.9px">Translation</div>
<div class="bx" style="left:68.2px;top:15.8px">0</div>
<div class="bx" style="left:113.2px;top:15.8px">0</div>
<div class="bx fc" style="left:157.8px;top:15.8px">0.323524651</div>
<div class="lb" style="top:35px">Scale</div>
<div class="bx" style="left:68.2px;top:31.9px">1</div>
<div class="bx" style="left:113.2px;top:31.9px">1</div>
<div class="bx" style="left:157.8px;top:31.9px">1</div>
<div class="lb" style="top:51.1px">Orientation</div>
<div class="bx" style="left:68.2px;top:48px">0</div>
<div class="bx" style="left:113.2px;top:48px">0</div>
<div class="bx" style="left:157.8px;top:48px">0</div>
<div class="lb" style="top:67.2px">Origin</div>
<div class="bx" style="left:68.2px;top:64.1px">0</div>
<div class="bx" style="left:113.2px;top:64.1px">0</div>
<div class="bx" style="left:157.8px;top:64.1px">0</div>
<div class="lb" style="top:78.8px;line-height:8px">Coordinate Shift<br>Scale Method</div>
<div class="cb" style="top:80.4px">Always Auto Shift Scale<i></i></div>
</div>
<div class="pn" style="left:573.4px;top:336.6px;height:100.5px">
<div class="sb" style="height:90px"></div><div class="sa" style="top:90px"><i></i></div>
<div class="hd">Transforming</div><div class="hl"></div>
<div class="lb" style="top:18.9px">Translation</div>
<div class="bx" style="left:68.2px;top:15.8px">0</div>
<div class="bx" style="left:113.2px;top:15.8px">0</div>
<div class="bx fc" style="left:157.8px;top:15.8px">0.323524651</div>
<div class="lb" style="top:35px">Scale</div>
<div class="bx" style="left:68.2px;top:31.9px">1</div>
<div class="bx" style="left:113.2px;top:31.9px">1</div>
<div class="bx" style="left:157.8px;top:31.9px">1</div>
<div class="lb" style="top:51.1px">Orientation</div>
<div class="bx" style="left:68.2px;top:48px">0</div>
<div class="bx" style="left:113.2px;top:48px">0</div>
<div class="bx" style="left:157.8px;top:48px">0</div>
<div class="lb" style="top:67.2px">Origin</div>
<div class="bx" style="left:68.2px;top:64.1px">0</div>
<div class="bx" style="left:113.2px;top:64.1px">0</div>
<div class="bx" style="left:157.8px;top:64.1px">0</div>
<div class="lb" style="top:78.8px;line-height:8px">Coordinate Shift<br>Scale Method</div>
<div class="cb" style="top:80.4px">Always Auto Shift Scale<i></i></div>
</div>
<div class="pn" style="left:573.4px;top:669.8px;height:108.7px">
<div class="sb" style="height:90px"></div><div class="sa" style="top:90px"><i></i></div>
<div class="hd">Transforming</div><div class="hl"></div>
<div class="lb" style="top:18.9px">Translation</div>
<div class="bx" style="left:68.2px;top:15.8px">0</div>
<div class="bx" style="left:113.2px;top:15.8px">0</div>
<div class="bx" style="left:157.8px;top:15.8px">0.0323525</div>
<div class="lb" style="top:35px">Scale</div>
<div class="bx" style="left:68.2px;top:31.9px">1</div>
<div class="bx" style="left:113.2px;top:31.9px">1</div>
<div class="bx" style="left:157.8px;top:31.9px">1</div>
<div class="lb" style="top:51.1px">Orientation</div>
<div class="bx" style="left:68.2px;top:48px">0</div>
<div class="bx" style="left:113.2px;top:48px">0</div>
<div class="bx" style="left:157.8px;top:48px">0</div>
<div class="lb" style="top:67.2px">Origin</div>
<div class="bx" style="left:68.2px;top:64.1px">0</div>
<div class="bx" style="left:113.2px;top:64.1px">0</div>
<div class="bx" style="left:157.8px;top:64.1px">0</div>
<div class="lb" style="top:78.8px;line-height:8px">Coordinate Shift<br>Scale Method</div>
<div class="cb" style="top:80.4px">Always Auto Shift Scale<i></i></div>
</div>
</div>
</body></html>
